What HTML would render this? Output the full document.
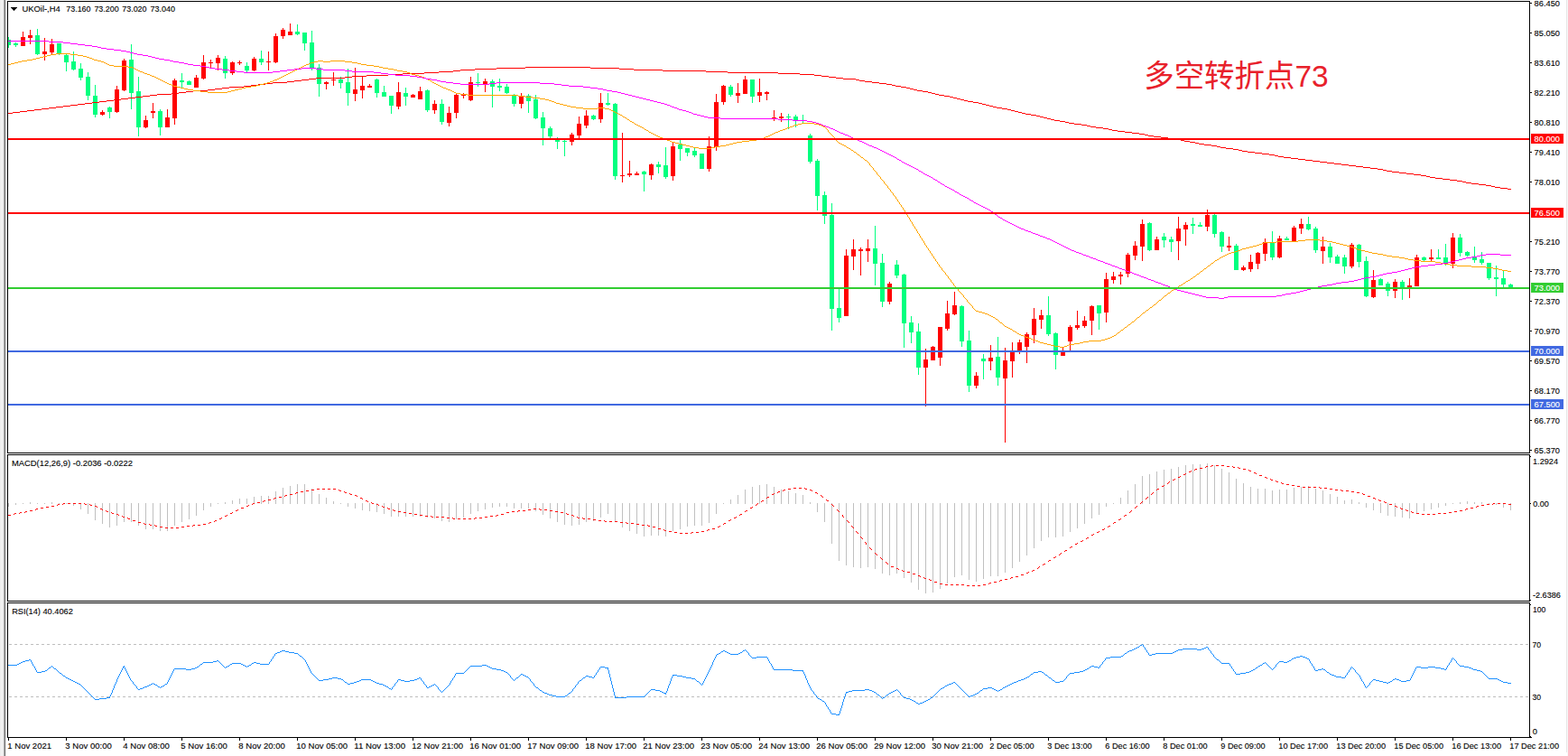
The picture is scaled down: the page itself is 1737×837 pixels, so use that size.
<!DOCTYPE html>
<html><head><meta charset="utf-8"><title>UKOil H4</title>
<style>html,body{margin:0;padding:0;background:#fff;overflow:hidden}body{width:1737px;height:837px;font-family:"Liberation Sans",sans-serif}svg{display:block}text{font-family:"Liberation Sans",sans-serif;font-size:9.7px;fill:#000;stroke:#000;stroke-width:0.12px}</style></head><body>
<svg width="1737" height="837" viewBox="0 0 1737 837">
<rect x="0" y="0" width="1737" height="837" fill="#fff"/>
<g shape-rendering="crispEdges">
<rect x="0" y="0" width="1" height="837" fill="#eeeeee"/>
<rect x="1" y="0" width="2" height="837" fill="#f2f2f2"/>
<rect x="3" y="0" width="1" height="837" fill="#eaeaea"/>
<rect x="4" y="0" width="1" height="837" fill="#b0b0b0"/>
<rect x="5" y="0" width="1" height="837" fill="#707070"/>
<rect x="6" y="0" width="1" height="837" fill="#f4f4f4"/>
<rect x="1735" y="0" width="1" height="833" fill="#e6e6e6"/>
<rect x="1736" y="0" width="1" height="837" fill="#f8f8f8"/>
</g>
<defs><clipPath id="cm"><rect x="9" y="2" width="1685" height="499"/></clipPath><clipPath id="c2"><rect x="9" y="504" width="1685" height="161"/></clipPath><clipPath id="c3"><rect x="9" y="668" width="1685" height="148"/></clipPath></defs>
<g clip-path="url(#cm)" shape-rendering="crispEdges">
<path fill="#00ff7f" d="M9 41h1V53h-1zM17 47h1V52h-1zM41 32h1V61h-1zM65 48h1V61h-1zM73 59h1V79h-1zM81 57h1V78h-1zM89 70h1V89h-1zM97 80h1V111h-1zM105 94h1V130h-1zM121 118h1V131h-1zM145 49h1V121h-1zM153 85h1V151h-1zM177 121h1V150h-1zM201 81h1V97h-1zM209 89h1V94h-1zM249 62h1V87h-1zM273 69h1V80h-1zM289 56h1V72h-1zM329 27h1V39h-1zM337 36h1V56h-1zM345 34h1V78h-1zM353 71h1V107h-1zM377 85h1V98h-1zM385 76h1V117h-1zM417 87h1V108h-1zM425 95h1V107h-1zM433 106h1V126h-1zM449 97h1V117h-1zM473 99h1V124h-1zM489 110h1V138h-1zM529 81h1V96h-1zM545 88h1V119h-1zM553 87h1V101h-1zM561 93h1V104h-1zM569 104h1V118h-1zM585 104h1V125h-1zM593 105h1V132h-1zM601 124h1V161h-1zM609 140h1V153h-1zM617 152h1V165h-1zM625 155h1V173h-1zM657 127h1V133h-1zM673 103h1V117h-1zM681 114h1V199h-1zM713 189h1V212h-1zM729 179h1V192h-1zM737 163h1V198h-1zM753 155h1V178h-1zM761 164h1V173h-1zM769 164h1V174h-1zM777 170h1V187h-1zM809 94h1V107h-1zM833 88h1V114h-1zM873 126h1V143h-1zM881 127h1V141h-1zM889 127h1V137h-1zM897 148h1V181h-1zM905 176h1V233h-1zM913 212h1V248h-1zM921 225h1V366h-1zM929 320h1V357h-1zM969 250h1V316h-1zM977 281h1V340h-1zM993 288h1V308h-1zM1001 303h1V385h-1zM1009 350h1V380h-1zM1017 358h1V415h-1zM1065 338h1V384h-1zM1073 366h1V434h-1zM1089 392h1V420h-1zM1105 373h1V427h-1zM1161 328h1V372h-1zM1169 368h1V409h-1zM1217 338h1V365h-1zM1273 246h1V278h-1zM1289 258h1V274h-1zM1297 262h1V279h-1zM1321 241h1V259h-1zM1329 246h1V251h-1zM1345 237h1V263h-1zM1353 256h1V279h-1zM1369 270h1V299h-1zM1409 256h1V288h-1zM1425 262h1V266h-1zM1449 240h1V255h-1zM1457 251h1V280h-1zM1473 269h1V291h-1zM1481 282h1V292h-1zM1489 282h1V303h-1zM1505 270h1V296h-1zM1513 284h1V329h-1zM1529 308h1V316h-1zM1537 312h1V328h-1zM1553 310h1V332h-1zM1577 284h1V290h-1zM1593 276h1V287h-1zM1601 270h1V294h-1zM1617 259h1V284h-1zM1625 278h1V284h-1zM1633 273h1V291h-1zM1641 279h1V293h-1zM1649 291h1V310h-1zM1657 294h1V328h-1zM1665 300h1V318h-1zM1673 314h1V318h-1zM7 44h5V50h-5zM15 48h5V50h-5zM39 39h5V60h-5zM63 48h5V59h-5zM71 61h5V69h-5zM79 68h5V77h-5zM87 76h5V86h-5zM95 85h5V106h-5zM103 106h5V127h-5zM119 119h5V124h-5zM143 66h5V103h-5zM151 101h5V141h-5zM175 123h5V141h-5zM199 89h5V91h-5zM207 90h5V94h-5zM247 65h5V81h-5zM271 73h5V78h-5zM287 65h5V69h-5zM327 35h5V38h-5zM335 36h5V48h-5zM343 47h5V75h-5zM351 75h5V93h-5zM375 88h5V92h-5zM383 91h5V103h-5zM415 88h5V103h-5zM423 102h5V107h-5zM431 106h5V117h-5zM447 103h5V107h-5zM471 100h5V122h-5zM487 115h5V135h-5zM527 91h5V92h-5zM543 90h5V96h-5zM551 95h5V97h-5zM559 96h5V103h-5zM567 106h5V115h-5zM583 106h5V112h-5zM591 110h5V131h-5zM599 130h5V142h-5zM607 142h5V151h-5zM615 155h5V157h-5zM623 156h5V157h-5zM655 128h5V132h-5zM671 114h5V116h-5zM679 115h5V195h-5zM711 190h5V193h-5zM727 182h5V185h-5zM735 183h5V196h-5zM751 160h5V165h-5zM759 164h5V169h-5zM767 167h5V172h-5zM775 170h5V187h-5zM807 96h5V105h-5zM831 88h5V107h-5zM871 129h5V130h-5zM879 129h5V134h-5zM887 133h5V134h-5zM895 150h5V179h-5zM903 178h5V217h-5zM911 216h5V239h-5zM919 238h5V342h-5zM927 341h5V352h-5zM967 275h5V292h-5zM975 291h5V334h-5zM991 293h5V305h-5zM999 304h5V358h-5zM1007 357h5V368h-5zM1015 367h5V407h-5zM1063 339h5V378h-5zM1071 377h5V427h-5zM1087 397h5V400h-5zM1103 395h5V418h-5zM1159 349h5V370h-5zM1167 369h5V393h-5zM1215 338h5V347h-5zM1271 247h5V277h-5zM1287 262h5V266h-5zM1295 265h5V268h-5zM1319 248h5V250h-5zM1327 249h5V251h-5zM1343 238h5V259h-5zM1351 257h5V273h-5zM1367 272h5V299h-5zM1407 269h5V285h-5zM1423 264h5V266h-5zM1447 248h5V254h-5zM1455 253h5V277h-5zM1471 273h5V285h-5zM1479 284h5V292h-5zM1487 285h5V295h-5zM1503 271h5V290h-5zM1511 289h5V328h-5zM1527 309h5V316h-5zM1535 314h5V322h-5zM1551 312h5V320h-5zM1575 285h5V288h-5zM1591 285h5V287h-5zM1599 285h5V292h-5zM1615 263h5V280h-5zM1623 279h5V283h-5zM1631 285h5V288h-5zM1639 287h5V291h-5zM1647 291h5V308h-5zM1655 307h5V309h-5zM1663 308h5V315h-5zM1671 315h5V318h-5z"/>
<path fill="#ff0000" d="M25 35h1V51h-1zM33 33h1V49h-1zM49 42h1V67h-1zM57 43h1V61h-1zM113 122h1V128h-1zM129 95h1V125h-1zM137 65h1V101h-1zM161 128h1V142h-1zM169 114h1V131h-1zM185 121h1V141h-1zM193 87h1V138h-1zM217 83h1V97h-1zM225 61h1V88h-1zM233 66h1V75h-1zM241 61h1V78h-1zM257 68h1V83h-1zM265 67h1V72h-1zM281 63h1V79h-1zM297 57h1V78h-1zM305 37h1V70h-1zM313 31h1V43h-1zM321 26h1V39h-1zM361 90h1V99h-1zM369 80h1V95h-1zM393 75h1V112h-1zM401 84h1V109h-1zM409 93h1V97h-1zM441 91h1V121h-1zM457 104h1V108h-1zM465 96h1V110h-1zM481 111h1V126h-1zM497 118h1V140h-1zM505 104h1V131h-1zM513 103h1V109h-1zM521 85h1V112h-1zM537 87h1V102h-1zM577 103h1V120h-1zM633 147h1V161h-1zM641 129h1V153h-1zM649 122h1V142h-1zM665 103h1V136h-1zM689 147h1V202h-1zM697 178h1V196h-1zM705 190h1V194h-1zM721 181h1V199h-1zM745 157h1V200h-1zM785 151h1V190h-1zM793 104h1V167h-1zM801 94h1V116h-1zM817 92h1V114h-1zM825 84h1V104h-1zM841 87h1V113h-1zM849 101h1V111h-1zM857 122h1V134h-1zM865 125h1V135h-1zM937 276h1V350h-1zM945 265h1V299h-1zM953 274h1V305h-1zM961 265h1V290h-1zM985 312h1V337h-1zM1025 386h1V450h-1zM1033 383h1V399h-1zM1041 362h1V405h-1zM1049 333h1V366h-1zM1057 323h1V349h-1zM1081 412h1V430h-1zM1097 382h1V410h-1zM1113 385h1V490h-1zM1121 379h1V418h-1zM1129 376h1V392h-1zM1137 368h1V402h-1zM1145 341h1V380h-1zM1153 343h1V364h-1zM1177 385h1V394h-1zM1185 360h1V388h-1zM1193 344h1V365h-1zM1201 350h1V363h-1zM1209 338h1V371h-1zM1225 302h1V357h-1zM1233 301h1V314h-1zM1241 301h1V315h-1zM1249 280h1V307h-1zM1257 267h1V288h-1zM1265 243h1V289h-1zM1281 262h1V277h-1zM1305 240h1V288h-1zM1313 246h1V272h-1zM1337 232h1V256h-1zM1361 262h1V278h-1zM1377 294h1V300h-1zM1385 282h1V301h-1zM1393 279h1V298h-1zM1401 264h1V289h-1zM1417 261h1V286h-1zM1433 250h1V267h-1zM1441 242h1V259h-1zM1465 262h1V292h-1zM1497 269h1V297h-1zM1521 299h1V330h-1zM1545 309h1V330h-1zM1561 308h1V330h-1zM1569 282h1V317h-1zM1585 276h1V289h-1zM1609 258h1V297h-1zM23 41h5V51h-5zM31 39h5V42h-5zM47 57h5V60h-5zM55 49h5V58h-5zM111 124h5V127h-5zM127 99h5V124h-5zM135 67h5V100h-5zM159 133h5V141h-5zM167 123h5V125h-5zM183 130h5V141h-5zM191 89h5V131h-5zM215 86h5V97h-5zM223 69h5V87h-5zM231 69h5V70h-5zM239 64h5V70h-5zM255 69h5V81h-5zM263 69h5V70h-5zM279 65h5V78h-5zM295 68h5V69h-5zM303 40h5V69h-5zM311 33h5V40h-5zM319 35h5V39h-5zM359 91h5V93h-5zM367 88h5V89h-5zM391 99h5V104h-5zM399 95h5V100h-5zM407 95h5V97h-5zM439 102h5V118h-5zM455 105h5V108h-5zM463 101h5V110h-5zM479 115h5V122h-5zM495 125h5V136h-5zM503 105h5V125h-5zM511 105h5V106h-5zM519 91h5V111h-5zM535 90h5V94h-5zM575 106h5V115h-5zM631 149h5V157h-5zM639 137h5V150h-5zM647 128h5V139h-5zM663 114h5V132h-5zM687 194h5V195h-5zM695 192h5V194h-5zM703 192h5V194h-5zM719 182h5V194h-5zM743 162h5V195h-5zM783 162h5V187h-5zM791 113h5V163h-5zM799 95h5V113h-5zM815 103h5V106h-5zM823 88h5V104h-5zM839 102h5V106h-5zM847 102h5V104h-5zM855 130h5V132h-5zM863 129h5V131h-5zM935 283h5V350h-5zM943 276h5V284h-5zM951 276h5V278h-5zM959 275h5V278h-5zM983 314h5V334h-5zM1023 398h5V407h-5zM1031 384h5V399h-5zM1039 362h5V396h-5zM1047 347h5V364h-5zM1055 338h5V348h-5zM1079 416h5V427h-5zM1095 396h5V400h-5zM1111 399h5V419h-5zM1119 390h5V400h-5zM1127 379h5V389h-5zM1135 370h5V384h-5zM1143 353h5V371h-5zM1151 349h5V354h-5zM1175 390h5V394h-5zM1183 362h5V378h-5zM1191 360h5V363h-5zM1199 355h5V361h-5zM1207 339h5V355h-5zM1223 309h5V346h-5zM1231 306h5V310h-5zM1239 304h5V306h-5zM1247 282h5V303h-5zM1255 272h5V283h-5zM1263 248h5V273h-5zM1279 265h5V277h-5zM1303 253h5V267h-5zM1311 249h5V254h-5zM1335 238h5V251h-5zM1359 272h5V274h-5zM1375 296h5V299h-5zM1383 290h5V298h-5zM1391 280h5V292h-5zM1399 268h5V281h-5zM1415 264h5V285h-5zM1431 252h5V267h-5zM1439 248h5V253h-5zM1463 273h5V278h-5zM1495 271h5V295h-5zM1519 310h5V329h-5zM1543 312h5V322h-5zM1559 316h5V318h-5zM1567 285h5V317h-5zM1583 285h5V287h-5zM1607 263h5V292h-5z"/>
<path fill="#ff0000" d="M582 74h72v1h-72zM550 75h32v1h-32zM654 75h32v1h-32zM526 76h24v1h-24zM686 76h16v1h-16zM510 77h16v1h-16zM702 77h32v1h-32zM502 78h8v1h-8zM734 78h48v1h-48zM486 79h16v1h-16zM782 79h24v1h-24zM470 80h16v1h-16zM806 80h56v1h-56zM446 81h24v1h-24zM862 81h24v1h-24zM430 82h16v1h-16zM886 82h16v1h-16zM406 83h24v1h-24zM902 83h8v1h-8zM390 84h16v1h-16zM910 84h8v1h-8zM382 85h8v1h-8zM918 85h8v1h-8zM350 86h32v1h-32zM926 86h8v1h-8zM342 87h8v1h-8zM934 87h14v1h-14zM334 88h8v1h-8zM948 88h4v1h-4zM326 89h8v1h-8zM952 89h6v1h-6zM318 90h8v1h-8zM958 90h8v1h-8zM302 91h16v1h-16zM966 91h8v1h-8zM294 92h8v1h-8zM974 92h8v1h-8zM286 93h8v1h-8zM982 93h6v1h-6zM278 94h8v1h-8zM988 94h4v1h-4zM270 95h8v1h-8zM992 95h6v1h-6zM254 96h16v1h-16zM998 96h6v1h-6zM246 97h8v1h-8zM1004 97h4v1h-4zM238 98h8v1h-8zM1008 98h4v1h-4zM230 99h8v1h-8zM1012 99h4v1h-4zM214 100h16v1h-16zM1016 100h6v1h-6zM206 101h8v1h-8zM1022 101h6v1h-6zM198 102h8v1h-8zM1028 102h4v1h-4zM190 103h8v1h-8zM1032 103h4v1h-4zM174 104h16v1h-16zM1036 104h4v1h-4zM166 105h8v1h-8zM1040 105h6v1h-6zM158 106h8v1h-8zM1046 106h6v1h-6zM150 107h8v1h-8zM1052 107h4v1h-4zM142 108h8v1h-8zM1056 108h4v1h-4zM134 109h8v1h-8zM1060 109h4v1h-4zM126 110h8v1h-8zM1064 110h4v1h-4zM118 111h8v1h-8zM1068 111h4v1h-4zM110 112h8v1h-8zM1072 112h6v1h-6zM102 113h8v1h-8zM1078 113h6v1h-6zM94 114h8v1h-8zM1084 114h4v1h-4zM86 115h8v1h-8zM1088 115h4v1h-4zM78 116h8v1h-8zM1092 116h4v1h-4zM70 117h8v1h-8zM1096 117h4v1h-4zM62 118h8v1h-8zM1100 118h4v1h-4zM54 119h8v1h-8zM1104 119h6v1h-6zM46 120h8v1h-8zM1110 120h6v1h-6zM38 121h8v1h-8zM1116 121h4v1h-4zM30 122h8v1h-8zM1120 122h4v1h-4zM22 123h8v1h-8zM1124 123h4v1h-4zM14 124h8v1h-8zM1128 124h4v1h-4zM9 125h5v1h-5zM1132 125h4v1h-4zM1136 126h6v1h-6zM1142 127h6v1h-6zM1148 128h4v1h-4zM1152 129h4v1h-4zM1156 130h4v1h-4zM1160 131h4v1h-4zM1164 132h4v1h-4zM1168 133h6v1h-6zM1174 134h6v1h-6zM1180 135h4v1h-4zM1184 136h6v1h-6zM1190 137h8v1h-8zM1198 138h6v1h-6zM1204 139h4v1h-4zM1208 140h6v1h-6zM1214 141h8v1h-8zM1222 142h6v1h-6zM1228 143h4v1h-4zM1232 144h6v1h-6zM1238 145h8v1h-8zM1246 146h8v1h-8zM1254 147h8v1h-8zM1262 148h6v1h-6zM1268 149h4v1h-4zM1272 150h6v1h-6zM1278 151h8v1h-8zM1286 152h8v1h-8zM1294 153h8v1h-8zM1302 154h6v1h-6zM1308 155h4v1h-4zM1312 156h6v1h-6zM1318 157h6v1h-6zM1324 158h4v1h-4zM1328 159h6v1h-6zM1334 160h8v1h-8zM1342 161h6v1h-6zM1348 162h4v1h-4zM1352 163h6v1h-6zM1358 164h8v1h-8zM1366 165h6v1h-6zM1372 166h4v1h-4zM1376 167h6v1h-6zM1382 168h8v1h-8zM1390 169h8v1h-8zM1398 170h8v1h-8zM1406 171h6v1h-6zM1412 172h4v1h-4zM1416 173h6v1h-6zM1422 174h8v1h-8zM1430 175h8v1h-8zM1438 176h8v1h-8zM1446 177h8v1h-8zM1454 178h8v1h-8zM1462 179h8v1h-8zM1470 180h8v1h-8zM1478 181h8v1h-8zM1486 182h8v1h-8zM1494 183h8v1h-8zM1502 184h8v1h-8zM1510 185h8v1h-8zM1518 186h8v1h-8zM1526 187h6v1h-6zM1532 188h4v1h-4zM1536 189h6v1h-6zM1542 190h8v1h-8zM1550 191h8v1h-8zM1558 192h8v1h-8zM1566 193h8v1h-8zM1574 194h6v1h-6zM1580 195h4v1h-4zM1584 196h6v1h-6zM1590 197h8v1h-8zM1598 198h8v1h-8zM1606 199h8v1h-8zM1614 200h6v1h-6zM1620 201h4v1h-4zM1624 202h6v1h-6zM1630 203h8v1h-8zM1638 204h8v1h-8zM1646 205h6v1h-6zM1652 206h4v1h-4zM1656 207h6v1h-6zM1662 208h8v1h-8zM1670 209h4v1h-4z"/>
<path fill="#ffa500" d="M62 59h16v1h-16zM56 60h6v1h-6zM78 60h8v1h-8zM52 61h4v1h-4zM86 61h6v1h-6zM48 62h4v1h-4zM92 62h4v1h-4zM44 63h4v1h-4zM96 63h3v1h-3zM40 64h4v1h-4zM99 64h3v1h-3zM36 65h4v1h-4zM102 65h2v1h-2zM30 66h6v1h-6zM104 66h4v1h-4zM24 67h6v1h-6zM108 67h4v1h-4zM352 67h6v1h-6zM366 67h16v1h-16zM20 68h4v1h-4zM112 68h3v1h-3zM348 68h4v1h-4zM358 68h8v1h-8zM382 68h8v1h-8zM16 69h4v1h-4zM115 69h2v1h-2zM344 69h4v1h-4zM390 69h6v1h-6zM12 70h4v1h-4zM117 70h2v1h-2zM342 70h2v1h-2zM396 70h4v1h-4zM9 71h3v1h-3zM119 71h2v1h-2zM339 71h3v1h-3zM400 71h6v1h-6zM121 72h5v1h-5zM337 72h2v1h-2zM406 72h8v1h-8zM126 73h16v1h-16zM335 73h2v1h-2zM414 73h6v1h-6zM142 74h5v1h-5zM333 74h2v1h-2zM420 74h4v1h-4zM147 75h2v1h-2zM331 75h2v1h-2zM424 75h6v1h-6zM149 76h2v1h-2zM329 76h2v1h-2zM430 76h6v1h-6zM151 77h2v1h-2zM327 77h2v1h-2zM436 77h4v1h-4zM153 78h2v1h-2zM325 78h2v1h-2zM440 78h6v1h-6zM155 79h3v1h-3zM323 79h2v1h-2zM446 79h5v1h-5zM158 80h2v1h-2zM321 80h2v1h-2zM451 80h3v1h-3zM160 81h3v1h-3zM319 81h2v1h-2zM454 81h2v1h-2zM163 82h3v1h-3zM317 82h2v1h-2zM456 82h4v1h-4zM166 83h2v1h-2zM315 83h2v1h-2zM460 83h4v1h-4zM168 84h3v1h-3zM313 84h2v1h-2zM464 84h3v1h-3zM171 85h2v1h-2zM311 85h2v1h-2zM467 85h3v1h-3zM173 86h2v1h-2zM309 86h2v1h-2zM470 86h2v1h-2zM175 87h2v1h-2zM307 87h2v1h-2zM472 87h2v1h-2zM177 88h2v1h-2zM304 88h3v1h-3zM474 88h2v1h-2zM179 89h2v1h-2zM302 89h2v1h-2zM476 89h2v1h-2zM181 90h2v1h-2zM299 90h3v1h-3zM478 90h1v1h-1zM183 91h2v1h-2zM296 91h3v1h-3zM479 91h2v1h-2zM185 92h2v1h-2zM292 92h4v1h-4zM481 92h2v1h-2zM187 93h3v1h-3zM288 93h4v1h-4zM483 93h2v1h-2zM190 94h2v1h-2zM284 94h4v1h-4zM485 94h2v1h-2zM192 95h4v1h-4zM278 95h6v1h-6zM487 95h2v1h-2zM196 96h4v1h-4zM272 96h6v1h-6zM489 96h2v1h-2zM200 97h4v1h-4zM268 97h4v1h-4zM491 97h3v1h-3zM204 98h4v1h-4zM264 98h4v1h-4zM494 98h2v1h-2zM208 99h6v1h-6zM260 99h4v1h-4zM496 99h3v1h-3zM214 100h8v1h-8zM256 100h4v1h-4zM499 100h2v1h-2zM222 101h8v1h-8zM252 101h4v1h-4zM501 101h2v1h-2zM230 102h22v1h-22zM503 102h2v1h-2zM505 103h5v1h-5zM510 104h8v1h-8zM518 105h56v1h-56zM574 106h8v1h-8zM582 107h8v1h-8zM590 108h8v1h-8zM598 109h6v1h-6zM604 110h4v1h-4zM608 111h3v1h-3zM611 112h3v1h-3zM614 113h2v1h-2zM616 114h4v1h-4zM620 115h4v1h-4zM624 116h4v1h-4zM628 117h4v1h-4zM632 118h6v1h-6zM638 119h8v1h-8zM662 119h8v1h-8zM646 120h16v1h-16zM670 120h5v1h-5zM675 121h2v1h-2zM677 122h2v1h-2zM679 123h2v1h-2zM681 124h2v1h-2zM683 125h2v1h-2zM685 126h2v1h-2zM687 127h2v1h-2zM689 128h1v1h-1zM690 129h2v1h-2zM692 130h2v1h-2zM694 131h1v1h-1zM695 132h2v1h-2zM697 133h1v1h-1zM698 134h2v1h-2zM700 135h2v1h-2zM702 136h1v1h-1zM888 136h14v1h-14zM703 137h2v1h-2zM884 137h4v1h-4zM902 137h5v1h-5zM705 138h2v1h-2zM880 138h4v1h-4zM907 138h3v1h-3zM707 139h2v1h-2zM878 139h2v1h-2zM910 139h2v1h-2zM709 140h2v1h-2zM875 140h3v1h-3zM912 140h2v1h-2zM711 141h2v1h-2zM872 141h3v1h-3zM914 141h1v1h-1zM713 142h1v1h-1zM870 142h2v1h-2zM915 142h1v1h-1zM714 143h2v1h-2zM867 143h3v1h-3zM916 143h1v1h-1zM716 144h2v1h-2zM864 144h3v1h-3zM917 144h1v1h-1zM718 145h1v1h-1zM862 145h2v1h-2zM917 145h1v1h-1zM719 146h2v1h-2zM859 146h3v1h-3zM918 146h1v1h-1zM721 147h2v1h-2zM857 147h2v1h-2zM919 147h1v1h-1zM723 148h2v1h-2zM855 148h2v1h-2zM920 148h1v1h-1zM725 149h2v1h-2zM853 149h2v1h-2zM921 149h1v1h-1zM727 150h2v1h-2zM851 150h2v1h-2zM922 150h1v1h-1zM729 151h2v1h-2zM848 151h3v1h-3zM923 151h1v1h-1zM731 152h3v1h-3zM846 152h2v1h-2zM924 152h1v1h-1zM734 153h2v1h-2zM843 153h3v1h-3zM925 153h1v1h-1zM736 154h3v1h-3zM838 154h5v1h-5zM925 154h1v1h-1zM739 155h3v1h-3zM830 155h8v1h-8zM926 155h1v1h-1zM742 156h2v1h-2zM822 156h8v1h-8zM927 156h1v1h-1zM744 157h4v1h-4zM816 157h6v1h-6zM928 157h1v1h-1zM748 158h4v1h-4zM812 158h4v1h-4zM929 158h2v1h-2zM752 159h4v1h-4zM808 159h4v1h-4zM931 159h2v1h-2zM756 160h4v1h-4zM804 160h4v1h-4zM933 160h2v1h-2zM760 161h4v1h-4zM798 161h6v1h-6zM935 161h2v1h-2zM764 162h4v1h-4zM792 162h6v1h-6zM937 162h1v1h-1zM768 163h6v1h-6zM788 163h4v1h-4zM938 163h2v1h-2zM774 164h14v1h-14zM940 164h2v1h-2zM942 165h1v1h-1zM943 166h2v1h-2zM945 167h1v1h-1zM946 168h2v1h-2zM948 169h1v1h-1zM949 170h1v1h-1zM950 171h2v1h-2zM952 172h1v1h-1zM953 173h1v1h-1zM954 174h2v1h-2zM956 175h1v1h-1zM957 176h1v1h-1zM958 177h2v1h-2zM960 178h1v1h-1zM961 179h1v1h-1zM962 180h1v1h-1zM963 181h1v1h-1zM963 182h1v1h-1zM964 183h1v1h-1zM965 184h1v1h-1zM966 185h1v1h-1zM967 186h1v1h-1zM967 187h1v1h-1zM968 188h1v1h-1zM969 189h1v1h-1zM970 190h1v1h-1zM971 191h1v1h-1zM971 192h1v1h-1zM972 193h1v1h-1zM973 194h1v1h-1zM974 195h1v1h-1zM975 196h1v1h-1zM975 197h1v1h-1zM976 198h1v1h-1zM977 199h1v1h-1zM978 200h1v1h-1zM979 201h1v1h-1zM979 202h1v1h-1zM980 203h1v1h-1zM981 204h1v1h-1zM982 205h1v1h-1zM983 206h1v1h-1zM983 207h1v1h-1zM984 208h1v1h-1zM985 209h1v1h-1zM986 210h1v1h-1zM986 211h1v1h-1zM987 212h1v1h-1zM988 213h1v1h-1zM989 214h1v1h-1zM989 215h1v1h-1zM990 216h1v1h-1zM991 217h1v1h-1zM992 218h1v1h-1zM992 219h1v1h-1zM993 220h1v1h-1zM994 221h1v1h-1zM994 222h1v1h-1zM995 223h1v1h-1zM996 224h1v1h-1zM996 225h1v1h-1zM997 226h1v1h-1zM998 227h1v1h-1zM998 228h1v1h-1zM999 229h1v1h-1zM1000 230h1v1h-1zM1000 231h1v1h-1zM1001 232h1v1h-1zM1002 233h1v1h-1zM1002 234h1v1h-1zM1003 235h1v1h-1zM1003 236h1v1h-1zM1004 237h1v1h-1zM1005 238h1v1h-1zM1005 239h1v1h-1zM1006 240h1v1h-1zM1007 241h1v1h-1zM1007 242h1v1h-1zM1008 243h1v1h-1zM1008 244h1v1h-1zM1009 245h1v1h-1zM1010 246h1v1h-1zM1010 247h1v1h-1zM1011 248h1v1h-1zM1011 249h1v1h-1zM1012 250h1v1h-1zM1013 251h1v1h-1zM1013 252h1v1h-1zM1014 253h1v1h-1zM1015 254h1v1h-1zM1015 255h1v1h-1zM1016 256h1v1h-1zM1016 257h1v1h-1zM1017 258h1v1h-1zM1018 259h1v1h-1zM1018 260h1v1h-1zM1019 261h1v1h-1zM1019 262h1v1h-1zM1020 263h1v1h-1zM1021 264h1v1h-1zM1021 265h1v1h-1zM1446 265h16v1h-16zM1022 266h1v1h-1zM1438 266h8v1h-8zM1462 266h8v1h-8zM1023 267h1v1h-1zM1414 267h24v1h-24zM1470 267h6v1h-6zM1023 268h1v1h-1zM1400 268h14v1h-14zM1476 268h4v1h-4zM1024 269h1v1h-1zM1398 269h2v1h-2zM1480 269h4v1h-4zM1024 270h1v1h-1zM1395 270h3v1h-3zM1484 270h4v1h-4zM1025 271h1v1h-1zM1392 271h3v1h-3zM1488 271h4v1h-4zM1026 272h1v1h-1zM1388 272h4v1h-4zM1492 272h4v1h-4zM1026 273h1v1h-1zM1384 273h4v1h-4zM1496 273h3v1h-3zM1027 274h1v1h-1zM1380 274h4v1h-4zM1499 274h3v1h-3zM1028 275h1v1h-1zM1376 275h4v1h-4zM1502 275h2v1h-2zM1028 276h1v1h-1zM1374 276h2v1h-2zM1504 276h4v1h-4zM1029 277h1v1h-1zM1371 277h3v1h-3zM1508 277h4v1h-4zM1030 278h1v1h-1zM1368 278h3v1h-3zM1512 278h4v1h-4zM1030 279h1v1h-1zM1364 279h4v1h-4zM1516 279h4v1h-4zM1031 280h1v1h-1zM1361 280h3v1h-3zM1520 280h6v1h-6zM1032 281h1v1h-1zM1359 281h2v1h-2zM1526 281h6v1h-6zM1032 282h1v1h-1zM1357 282h2v1h-2zM1532 282h4v1h-4zM1033 283h1v1h-1zM1355 283h2v1h-2zM1536 283h6v1h-6zM1034 284h1v1h-1zM1353 284h2v1h-2zM1542 284h8v1h-8zM1034 285h1v1h-1zM1351 285h2v1h-2zM1550 285h6v1h-6zM1035 286h1v1h-1zM1350 286h1v1h-1zM1556 286h4v1h-4zM1036 287h1v1h-1zM1348 287h2v1h-2zM1560 287h6v1h-6zM1036 288h1v1h-1zM1346 288h2v1h-2zM1566 288h8v1h-8zM1037 289h1v1h-1zM1345 289h1v1h-1zM1574 289h16v1h-16zM1038 290h1v1h-1zM1344 290h1v1h-1zM1590 290h6v1h-6zM1038 291h1v1h-1zM1342 291h2v1h-2zM1596 291h4v1h-4zM1039 292h1v1h-1zM1341 292h1v1h-1zM1600 292h6v1h-6zM1040 293h1v1h-1zM1340 293h1v1h-1zM1606 293h8v1h-8zM1040 294h1v1h-1zM1338 294h2v1h-2zM1614 294h16v1h-16zM1041 295h1v1h-1zM1337 295h1v1h-1zM1630 295h16v1h-16zM1042 296h1v1h-1zM1336 296h1v1h-1zM1646 296h8v1h-8zM1043 297h1v1h-1zM1334 297h2v1h-2zM1654 297h6v1h-6zM1043 298h1v1h-1zM1333 298h1v1h-1zM1660 298h4v1h-4zM1044 299h1v1h-1zM1332 299h1v1h-1zM1664 299h6v1h-6zM1045 300h1v1h-1zM1330 300h2v1h-2zM1670 300h4v1h-4zM1046 301h1v1h-1zM1329 301h1v1h-1zM1047 302h1v1h-1zM1328 302h1v1h-1zM1047 303h1v1h-1zM1326 303h2v1h-2zM1048 304h1v1h-1zM1325 304h1v1h-1zM1049 305h1v1h-1zM1324 305h1v1h-1zM1050 306h1v1h-1zM1322 306h2v1h-2zM1050 307h1v1h-1zM1321 307h1v1h-1zM1051 308h1v1h-1zM1319 308h2v1h-2zM1052 309h1v1h-1zM1318 309h1v1h-1zM1053 310h1v1h-1zM1316 310h2v1h-2zM1053 311h1v1h-1zM1314 311h2v1h-2zM1054 312h1v1h-1zM1313 312h1v1h-1zM1055 313h1v1h-1zM1311 313h2v1h-2zM1056 314h1v1h-1zM1310 314h1v1h-1zM1056 315h1v1h-1zM1308 315h2v1h-2zM1057 316h1v1h-1zM1306 316h2v1h-2zM1058 317h1v1h-1zM1305 317h1v1h-1zM1059 318h1v1h-1zM1303 318h2v1h-2zM1060 319h1v1h-1zM1302 319h1v1h-1zM1061 320h1v1h-1zM1300 320h2v1h-2zM1061 321h1v1h-1zM1298 321h2v1h-2zM1062 322h1v1h-1zM1297 322h1v1h-1zM1063 323h1v1h-1zM1296 323h1v1h-1zM1064 324h1v1h-1zM1294 324h2v1h-2zM1065 325h1v1h-1zM1293 325h1v1h-1zM1066 326h1v1h-1zM1292 326h1v1h-1zM1067 327h1v1h-1zM1290 327h2v1h-2zM1067 328h1v1h-1zM1289 328h1v1h-1zM1068 329h1v1h-1zM1288 329h1v1h-1zM1069 330h1v1h-1zM1287 330h1v1h-1zM1070 331h1v1h-1zM1286 331h1v1h-1zM1071 332h1v1h-1zM1284 332h2v1h-2zM1071 333h1v1h-1zM1283 333h1v1h-1zM1072 334h1v1h-1zM1282 334h1v1h-1zM1073 335h1v1h-1zM1281 335h1v1h-1zM1074 336h1v1h-1zM1280 336h1v1h-1zM1075 337h1v1h-1zM1278 337h2v1h-2zM1076 338h1v1h-1zM1277 338h1v1h-1zM1077 339h1v1h-1zM1276 339h1v1h-1zM1077 340h1v1h-1zM1274 340h2v1h-2zM1078 341h1v1h-1zM1273 341h1v1h-1zM1079 342h1v1h-1zM1272 342h1v1h-1zM1080 343h1v1h-1zM1270 343h2v1h-2zM1081 344h3v1h-3zM1269 344h1v1h-1zM1084 345h4v1h-4zM1268 345h1v1h-1zM1088 346h3v1h-3zM1266 346h2v1h-2zM1091 347h3v1h-3zM1265 347h1v1h-1zM1094 348h2v1h-2zM1264 348h1v1h-1zM1096 349h2v1h-2zM1263 349h1v1h-1zM1098 350h2v1h-2zM1262 350h1v1h-1zM1100 351h2v1h-2zM1260 351h2v1h-2zM1102 352h1v1h-1zM1259 352h1v1h-1zM1103 353h2v1h-2zM1258 353h1v1h-1zM1105 354h1v1h-1zM1257 354h1v1h-1zM1106 355h1v1h-1zM1256 355h1v1h-1zM1107 356h1v1h-1zM1254 356h2v1h-2zM1108 357h2v1h-2zM1253 357h1v1h-1zM1110 358h1v1h-1zM1252 358h1v1h-1zM1111 359h1v1h-1zM1250 359h2v1h-2zM1112 360h1v1h-1zM1249 360h1v1h-1zM1113 361h2v1h-2zM1248 361h1v1h-1zM1115 362h2v1h-2zM1246 362h2v1h-2zM1117 363h2v1h-2zM1245 363h1v1h-1zM1119 364h2v1h-2zM1244 364h1v1h-1zM1121 365h1v1h-1zM1242 365h2v1h-2zM1122 366h2v1h-2zM1241 366h1v1h-1zM1124 367h2v1h-2zM1240 367h1v1h-1zM1126 368h1v1h-1zM1238 368h2v1h-2zM1127 369h2v1h-2zM1237 369h1v1h-1zM1129 370h2v1h-2zM1236 370h1v1h-1zM1131 371h3v1h-3zM1234 371h2v1h-2zM1134 372h2v1h-2zM1232 372h2v1h-2zM1136 373h3v1h-3zM1230 373h2v1h-2zM1139 374h3v1h-3zM1227 374h3v1h-3zM1142 375h2v1h-2zM1224 375h3v1h-3zM1144 376h3v1h-3zM1220 376h4v1h-4zM1147 377h3v1h-3zM1206 377h14v1h-14zM1150 378h2v1h-2zM1200 378h6v1h-6zM1152 379h4v1h-4zM1196 379h4v1h-4zM1156 380h4v1h-4zM1190 380h6v1h-6zM1160 381h4v1h-4zM1184 381h6v1h-6zM1164 382h4v1h-4zM1182 382h2v1h-2zM1168 383h6v1h-6zM1179 383h3v1h-3zM1174 384h5v1h-5z"/>
<path fill="#ff00ff" d="M9 45h45v1h-45zM54 46h16v1h-16zM70 47h8v1h-8zM78 48h8v1h-8zM86 49h8v1h-8zM94 50h8v1h-8zM102 51h6v1h-6zM108 52h4v1h-4zM112 53h6v1h-6zM118 54h8v1h-8zM126 55h8v1h-8zM134 56h6v1h-6zM140 57h4v1h-4zM144 58h4v1h-4zM148 59h4v1h-4zM152 60h6v1h-6zM158 61h6v1h-6zM164 62h4v1h-4zM168 63h4v1h-4zM172 64h4v1h-4zM176 65h6v1h-6zM182 66h6v1h-6zM188 67h4v1h-4zM192 68h6v1h-6zM198 69h6v1h-6zM204 70h4v1h-4zM208 71h6v1h-6zM214 72h8v1h-8zM222 73h6v1h-6zM228 74h4v1h-4zM232 75h6v1h-6zM334 75h16v1h-16zM238 76h8v1h-8zM326 76h8v1h-8zM350 76h8v1h-8zM246 77h8v1h-8zM318 77h8v1h-8zM358 77h24v1h-24zM254 78h8v1h-8zM310 78h8v1h-8zM382 78h8v1h-8zM262 79h8v1h-8zM302 79h8v1h-8zM390 79h24v1h-24zM270 80h32v1h-32zM414 80h8v1h-8zM422 81h8v1h-8zM430 82h8v1h-8zM438 83h16v1h-16zM454 84h8v1h-8zM462 85h6v1h-6zM468 86h4v1h-4zM472 87h6v1h-6zM478 88h6v1h-6zM484 89h4v1h-4zM488 90h6v1h-6zM494 91h8v1h-8zM550 91h48v1h-48zM502 92h8v1h-8zM542 92h8v1h-8zM598 92h16v1h-16zM510 93h32v1h-32zM614 93h8v1h-8zM622 94h8v1h-8zM630 95h16v1h-16zM646 96h8v1h-8zM654 97h8v1h-8zM662 98h6v1h-6zM668 99h4v1h-4zM672 100h6v1h-6zM678 101h6v1h-6zM684 102h4v1h-4zM688 103h4v1h-4zM692 104h4v1h-4zM696 105h4v1h-4zM700 106h4v1h-4zM704 107h4v1h-4zM708 108h4v1h-4zM712 109h4v1h-4zM716 110h4v1h-4zM720 111h4v1h-4zM724 112h4v1h-4zM728 113h4v1h-4zM732 114h4v1h-4zM736 115h3v1h-3zM739 116h3v1h-3zM742 117h2v1h-2zM744 118h3v1h-3zM747 119h3v1h-3zM750 120h2v1h-2zM752 121h4v1h-4zM756 122h4v1h-4zM760 123h3v1h-3zM763 124h3v1h-3zM766 125h2v1h-2zM768 126h4v1h-4zM772 127h4v1h-4zM776 128h4v1h-4zM780 129h4v1h-4zM784 130h14v1h-14zM798 131h64v1h-64zM862 132h16v1h-16zM878 133h16v1h-16zM894 134h6v1h-6zM900 135h4v1h-4zM904 136h3v1h-3zM907 137h3v1h-3zM910 138h2v1h-2zM912 139h3v1h-3zM915 140h3v1h-3zM918 141h2v1h-2zM920 142h3v1h-3zM923 143h2v1h-2zM925 144h2v1h-2zM927 145h2v1h-2zM929 146h2v1h-2zM931 147h3v1h-3zM934 148h2v1h-2zM936 149h3v1h-3zM939 150h2v1h-2zM941 151h2v1h-2zM943 152h2v1h-2zM945 153h2v1h-2zM947 154h3v1h-3zM950 155h2v1h-2zM952 156h3v1h-3zM955 157h2v1h-2zM957 158h2v1h-2zM959 159h2v1h-2zM961 160h2v1h-2zM963 161h3v1h-3zM966 162h2v1h-2zM968 163h3v1h-3zM971 164h2v1h-2zM973 165h2v1h-2zM975 166h2v1h-2zM977 167h2v1h-2zM979 168h2v1h-2zM981 169h2v1h-2zM983 170h2v1h-2zM985 171h2v1h-2zM987 172h2v1h-2zM989 173h2v1h-2zM991 174h2v1h-2zM993 175h1v1h-1zM994 176h2v1h-2zM996 177h2v1h-2zM998 178h1v1h-1zM999 179h2v1h-2zM1001 180h2v1h-2zM1003 181h2v1h-2zM1005 182h2v1h-2zM1007 183h2v1h-2zM1009 184h2v1h-2zM1011 185h2v1h-2zM1013 186h2v1h-2zM1015 187h2v1h-2zM1017 188h1v1h-1zM1018 189h2v1h-2zM1020 190h2v1h-2zM1022 191h1v1h-1zM1023 192h2v1h-2zM1025 193h2v1h-2zM1027 194h2v1h-2zM1029 195h2v1h-2zM1031 196h2v1h-2zM1033 197h1v1h-1zM1034 198h2v1h-2zM1036 199h2v1h-2zM1038 200h1v1h-1zM1039 201h2v1h-2zM1041 202h1v1h-1zM1042 203h2v1h-2zM1044 204h2v1h-2zM1046 205h1v1h-1zM1047 206h2v1h-2zM1049 207h2v1h-2zM1051 208h2v1h-2zM1053 209h2v1h-2zM1055 210h2v1h-2zM1057 211h1v1h-1zM1058 212h2v1h-2zM1060 213h2v1h-2zM1062 214h1v1h-1zM1063 215h2v1h-2zM1065 216h2v1h-2zM1067 217h2v1h-2zM1069 218h2v1h-2zM1071 219h2v1h-2zM1073 220h1v1h-1zM1074 221h2v1h-2zM1076 222h2v1h-2zM1078 223h1v1h-1zM1079 224h2v1h-2zM1081 225h2v1h-2zM1083 226h2v1h-2zM1085 227h2v1h-2zM1087 228h2v1h-2zM1089 229h2v1h-2zM1091 230h2v1h-2zM1093 231h2v1h-2zM1095 232h2v1h-2zM1097 233h1v1h-1zM1098 234h2v1h-2zM1100 235h1v1h-1zM1101 236h1v1h-1zM1102 237h2v1h-2zM1104 238h1v1h-1zM1105 239h1v1h-1zM1106 240h2v1h-2zM1108 241h2v1h-2zM1110 242h1v1h-1zM1111 243h2v1h-2zM1113 244h2v1h-2zM1115 245h2v1h-2zM1117 246h2v1h-2zM1119 247h2v1h-2zM1121 248h2v1h-2zM1123 249h2v1h-2zM1125 250h2v1h-2zM1127 251h2v1h-2zM1129 252h2v1h-2zM1131 253h3v1h-3zM1134 254h2v1h-2zM1136 255h3v1h-3zM1139 256h3v1h-3zM1142 257h2v1h-2zM1144 258h3v1h-3zM1147 259h3v1h-3zM1150 260h2v1h-2zM1152 261h3v1h-3zM1155 262h3v1h-3zM1158 263h2v1h-2zM1160 264h3v1h-3zM1163 265h2v1h-2zM1165 266h2v1h-2zM1167 267h2v1h-2zM1169 268h2v1h-2zM1171 269h2v1h-2zM1173 270h2v1h-2zM1175 271h2v1h-2zM1177 272h2v1h-2zM1179 273h2v1h-2zM1181 274h2v1h-2zM1183 275h2v1h-2zM1185 276h2v1h-2zM1187 277h3v1h-3zM1190 278h2v1h-2zM1192 279h3v1h-3zM1195 280h3v1h-3zM1198 281h2v1h-2zM1646 281h16v1h-16zM1200 282h3v1h-3zM1640 282h6v1h-6zM1662 282h12v1h-12zM1203 283h3v1h-3zM1636 283h4v1h-4zM1206 284h2v1h-2zM1630 284h6v1h-6zM1208 285h3v1h-3zM1624 285h6v1h-6zM1211 286h3v1h-3zM1620 286h4v1h-4zM1214 287h2v1h-2zM1616 287h4v1h-4zM1216 288h3v1h-3zM1612 288h4v1h-4zM1219 289h3v1h-3zM1608 289h4v1h-4zM1222 290h2v1h-2zM1604 290h4v1h-4zM1224 291h3v1h-3zM1598 291h6v1h-6zM1227 292h3v1h-3zM1590 292h8v1h-8zM1230 293h2v1h-2zM1582 293h8v1h-8zM1232 294h3v1h-3zM1574 294h8v1h-8zM1235 295h3v1h-3zM1568 295h6v1h-6zM1238 296h2v1h-2zM1564 296h4v1h-4zM1240 297h3v1h-3zM1560 297h4v1h-4zM1243 298h3v1h-3zM1556 298h4v1h-4zM1246 299h2v1h-2zM1552 299h4v1h-4zM1248 300h3v1h-3zM1548 300h4v1h-4zM1251 301h3v1h-3zM1542 301h6v1h-6zM1254 302h2v1h-2zM1536 302h6v1h-6zM1256 303h3v1h-3zM1532 303h4v1h-4zM1259 304h3v1h-3zM1528 304h4v1h-4zM1262 305h2v1h-2zM1524 305h4v1h-4zM1264 306h3v1h-3zM1518 306h6v1h-6zM1267 307h3v1h-3zM1512 307h6v1h-6zM1270 308h2v1h-2zM1508 308h4v1h-4zM1272 309h3v1h-3zM1504 309h4v1h-4zM1275 310h3v1h-3zM1500 310h4v1h-4zM1278 311h2v1h-2zM1494 311h6v1h-6zM1280 312h3v1h-3zM1486 312h8v1h-8zM1283 313h3v1h-3zM1480 313h6v1h-6zM1286 314h2v1h-2zM1476 314h4v1h-4zM1288 315h3v1h-3zM1470 315h6v1h-6zM1291 316h3v1h-3zM1464 316h6v1h-6zM1294 317h2v1h-2zM1460 317h4v1h-4zM1296 318h3v1h-3zM1456 318h4v1h-4zM1299 319h3v1h-3zM1452 319h4v1h-4zM1302 320h2v1h-2zM1448 320h4v1h-4zM1304 321h4v1h-4zM1444 321h4v1h-4zM1308 322h4v1h-4zM1440 322h4v1h-4zM1312 323h4v1h-4zM1436 323h4v1h-4zM1316 324h4v1h-4zM1430 324h6v1h-6zM1320 325h4v1h-4zM1424 325h6v1h-6zM1324 326h4v1h-4zM1420 326h4v1h-4zM1328 327h4v1h-4zM1414 327h6v1h-6zM1332 328h4v1h-4zM1360 328h54v1h-54zM1336 329h14v1h-14zM1356 329h4v1h-4zM1350 330h6v1h-6z"/>
<rect x="9" y="153" width="1686" height="2" fill="#ff0000"/>
<rect x="9" y="235" width="1686" height="2" fill="#ff0000"/>
<rect x="9" y="318" width="1686" height="2" fill="#32cd32"/>
<rect x="9" y="388" width="1686" height="2" fill="#4169e1"/>
<rect x="9" y="447" width="1686" height="2" fill="#4169e1"/>
</g>
<g clip-path="url(#c2)" shape-rendering="crispEdges">
<path fill="#c0c0c0" d="M9 557h1V561h-1zM17 557h1V559h-1zM25 557h1v1h-1zM33 556h1V558h-1zM41 557h1v1h-1zM49 557h1v1h-1zM57 556h1V558h-1zM65 557h1v1h-1zM73 557h1v1h-1zM81 557h1V560h-1zM89 557h1V564h-1zM97 557h1V569h-1zM105 557h1V576h-1zM113 557h1V580h-1zM121 557h1V584h-1zM129 557h1V582h-1zM137 557h1V578h-1zM145 557h1V578h-1zM153 557h1V582h-1zM161 557h1V586h-1zM169 557h1V586h-1zM177 557h1V588h-1zM185 557h1V588h-1zM193 557h1V582h-1zM201 557h1V578h-1zM209 557h1V575h-1zM217 557h1V571h-1zM225 557h1V565h-1zM233 557h1V561h-1zM241 557h1v1h-1zM249 556h1V558h-1zM257 554h1V558h-1zM265 552h1V558h-1zM273 552h1V558h-1zM281 550h1V558h-1zM289 549h1V558h-1zM297 549h1V558h-1zM305 544h1V558h-1zM313 540h1V558h-1zM321 538h1V558h-1zM329 536h1V558h-1zM337 536h1V558h-1zM345 541h1V558h-1zM353 547h1V558h-1zM361 551h1V558h-1zM369 555h1V558h-1zM377 557h1v1h-1zM385 557h1V561h-1zM393 557h1V563h-1zM401 557h1V565h-1zM409 557h1V566h-1zM417 557h1V567h-1zM425 557h1V569h-1zM433 557h1V572h-1zM441 557h1V572h-1zM449 557h1V572h-1zM457 557h1V572h-1zM465 557h1V572h-1zM473 557h1V573h-1zM481 557h1V574h-1zM489 557h1V577h-1zM497 557h1V578h-1zM505 557h1V575h-1zM513 557h1V573h-1zM521 557h1V569h-1zM529 557h1V566h-1zM537 557h1V564h-1zM545 557h1V562h-1zM553 557h1V561h-1zM561 557h1V561h-1zM569 557h1V563h-1zM577 557h1V563h-1zM585 557h1V563h-1zM593 557h1V566h-1zM601 557h1V570h-1zM609 557h1V574h-1zM617 557h1V578h-1zM625 557h1V581h-1zM633 557h1V582h-1zM641 557h1V581h-1zM649 557h1V578h-1zM657 557h1V577h-1zM665 557h1V573h-1zM673 557h1V569h-1zM681 557h1V577h-1zM689 557h1V584h-1zM697 557h1V588h-1zM705 557h1V591h-1zM713 557h1V594h-1zM721 557h1V593h-1zM729 557h1V593h-1zM737 557h1V594h-1zM745 557h1V588h-1zM753 557h1V586h-1zM761 557h1V583h-1zM769 557h1V582h-1zM777 557h1V582h-1zM785 557h1V579h-1zM793 557h1V569h-1zM801 557h1v1h-1zM809 553h1V558h-1zM817 548h1V558h-1zM825 542h1V558h-1zM833 539h1V558h-1zM841 537h1V558h-1zM849 536h1V558h-1zM857 539h1V558h-1zM865 542h1V558h-1zM873 544h1V558h-1zM881 546h1V558h-1zM889 548h1V558h-1zM897 556h1V558h-1zM905 557h1V567h-1zM913 557h1V578h-1zM921 557h1V602h-1zM929 557h1V621h-1zM937 557h1V626h-1zM945 557h1V628h-1zM953 557h1V629h-1zM961 557h1V628h-1zM969 557h1V630h-1zM977 557h1V635h-1zM985 557h1V637h-1zM993 557h1V635h-1zM1001 557h1V640h-1zM1009 557h1V645h-1zM1017 557h1V653h-1zM1025 557h1V657h-1zM1033 557h1V656h-1zM1041 557h1V652h-1zM1049 557h1V646h-1zM1057 557h1V639h-1zM1065 557h1V637h-1zM1073 557h1V642h-1zM1081 557h1V644h-1zM1089 557h1V641h-1zM1097 557h1V638h-1zM1105 557h1V638h-1zM1113 557h1V634h-1zM1121 557h1V629h-1zM1129 557h1V622h-1zM1137 557h1V615h-1zM1145 557h1V607h-1zM1153 557h1V599h-1zM1161 557h1V595h-1zM1169 557h1V595h-1zM1177 557h1V594h-1zM1185 557h1V589h-1zM1193 557h1V585h-1zM1201 557h1V580h-1zM1209 557h1V574h-1zM1217 557h1V570h-1zM1225 557h1V561h-1zM1233 557h1v1h-1zM1241 551h1V558h-1zM1249 543h1V558h-1zM1257 536h1V558h-1zM1265 527h1V558h-1zM1273 525h1V558h-1zM1281 522h1V558h-1zM1289 520h1V558h-1zM1297 519h1V558h-1zM1305 517h1V558h-1zM1313 515h1V558h-1zM1321 514h1V558h-1zM1329 514h1V558h-1zM1337 513h1V558h-1zM1345 515h1V558h-1zM1353 519h1V558h-1zM1361 523h1V558h-1zM1369 530h1V558h-1zM1377 535h1V558h-1zM1385 539h1V558h-1zM1393 541h1V558h-1zM1401 541h1V558h-1zM1409 543h1V558h-1zM1417 542h1V558h-1zM1425 542h1V558h-1zM1433 540h1V558h-1zM1441 539h1V558h-1zM1449 538h1V558h-1zM1457 541h1V558h-1zM1465 543h1V558h-1zM1473 547h1V558h-1zM1481 550h1V558h-1zM1489 554h1V558h-1zM1497 553h1V558h-1zM1505 556h1V558h-1zM1513 557h1V562h-1zM1521 557h1V565h-1zM1529 557h1V568h-1zM1537 557h1V571h-1zM1545 557h1V572h-1zM1553 557h1V573h-1zM1561 557h1V574h-1zM1569 557h1V568h-1zM1577 557h1V566h-1zM1585 557h1V564h-1zM1593 557h1V562h-1zM1601 557h1V560h-1zM1609 557h1v1h-1zM1617 556h1V558h-1zM1625 555h1V558h-1zM1633 556h1V558h-1zM1641 556h1V558h-1zM1649 557h1v1h-1zM1657 557h1V559h-1zM1665 557h1V562h-1zM1673 557h1V565h-1z"/>
<path fill="#ff0000" d="M1342 515h2v1h-2zM1347 515h3v1h-3zM1353 515h3v1h-3zM1336 516h2v1h-2zM1341 516h1v1h-1zM1359 516h3v1h-3zM1365 516h1v1h-1zM1335 517h1v1h-1zM1366 517h2v1h-2zM1371 517h1v1h-1zM1329 518h3v1h-3zM1372 518h2v1h-2zM1324 519h2v1h-2zM1377 519h3v1h-3zM1323 520h1v1h-1zM1383 520h1v1h-1zM1319 521h1v1h-1zM1384 521h2v1h-2zM1317 522h2v1h-2zM1389 523h2v1h-2zM1313 524h1v1h-1zM1391 524h1v1h-1zM1311 525h2v1h-2zM1395 526h3v1h-3zM1307 527h1v1h-1zM1305 528h2v1h-2zM1401 528h2v1h-2zM1403 529h1v1h-1zM1301 530h1v1h-1zM1407 530h1v1h-1zM1299 531h2v1h-2zM1408 531h2v1h-2zM1413 532h1v1h-1zM1295 533h1v1h-1zM1414 533h2v1h-2zM1294 534h1v1h-1zM1419 534h1v1h-1zM1293 535h1v1h-1zM1420 535h2v1h-2zM1425 536h3v1h-3zM1289 537h1v1h-1zM1431 537h3v1h-3zM1287 538h2v1h-2zM1437 538h3v1h-3zM1443 539h3v1h-3zM1449 539h3v1h-3zM1455 539h3v1h-3zM1461 539h1v1h-1zM879 540h3v1h-3zM885 540h3v1h-3zM891 540h1v1h-1zM1462 540h2v1h-2zM1467 540h3v1h-3zM351 541h3v1h-3zM357 541h3v1h-3zM363 541h3v1h-3zM369 541h3v1h-3zM873 541h3v1h-3zM892 541h2v1h-2zM1282 541h2v1h-2zM1473 541h3v1h-3zM345 542h3v1h-3zM375 542h1v1h-1zM868 542h2v1h-2zM897 542h2v1h-2zM1281 542h1v1h-1zM1479 542h3v1h-3zM1485 542h1v1h-1zM339 543h3v1h-3zM376 543h2v1h-2zM867 543h1v1h-1zM899 543h1v1h-1zM1486 543h2v1h-2zM1491 543h3v1h-3zM333 544h3v1h-3zM381 544h1v1h-1zM862 544h2v1h-2zM1497 544h3v1h-3zM328 545h2v1h-2zM382 545h2v1h-2zM861 545h1v1h-1zM903 545h2v1h-2zM1277 545h1v1h-1zM1503 545h3v1h-3zM327 546h1v1h-1zM387 546h1v1h-1zM857 546h1v1h-1zM905 546h1v1h-1zM1276 546h1v1h-1zM1509 546h1v1h-1zM321 547h3v1h-3zM388 547h2v1h-2zM855 547h2v1h-2zM1275 547h1v1h-1zM1510 547h2v1h-2zM316 548h2v1h-2zM393 548h2v1h-2zM909 548h1v1h-1zM315 549h1v1h-1zM395 549h1v1h-1zM910 549h1v1h-1zM1515 549h3v1h-3zM309 550h3v1h-3zM850 550h2v1h-2zM911 550h1v1h-1zM1271 550h1v1h-1zM304 551h2v1h-2zM399 551h2v1h-2zM849 551h1v1h-1zM1270 551h1v1h-1zM1521 551h2v1h-2zM303 552h1v1h-1zM401 552h1v1h-1zM1269 552h1v1h-1zM1523 552h1v1h-1zM297 553h3v1h-3zM915 553h1v1h-1zM1527 553h1v1h-1zM292 554h2v1h-2zM405 554h2v1h-2zM844 554h2v1h-2zM916 554h2v1h-2zM1528 554h2v1h-2zM291 555h1v1h-1zM407 555h1v1h-1zM843 555h1v1h-1zM1265 555h1v1h-1zM1533 555h1v1h-1zM285 556h3v1h-3zM411 556h1v1h-1zM1264 556h1v1h-1zM1534 556h2v1h-2zM70 557h2v1h-2zM75 557h3v1h-3zM81 557h3v1h-3zM87 557h3v1h-3zM93 557h1v1h-1zM280 557h2v1h-2zM412 557h2v1h-2zM839 557h1v1h-1zM1263 557h1v1h-1zM1654 557h2v1h-2zM1659 557h3v1h-3zM1665 557h3v1h-3zM64 558h2v1h-2zM69 558h1v1h-1zM94 558h2v1h-2zM99 558h1v1h-1zM279 558h1v1h-1zM417 558h2v1h-2zM838 558h1v1h-1zM921 558h1v1h-1zM1539 558h3v1h-3zM1647 558h3v1h-3zM1653 558h1v1h-1zM1671 558h3v1h-3zM63 559h1v1h-1zM100 559h2v1h-2zM275 559h1v1h-1zM419 559h1v1h-1zM837 559h1v1h-1zM922 559h1v1h-1zM1641 559h3v1h-3zM57 560h3v1h-3zM105 560h2v1h-2zM273 560h2v1h-2zM423 560h1v1h-1zM923 560h1v1h-1zM1259 560h1v1h-1zM1545 560h2v1h-2zM1636 560h2v1h-2zM51 561h3v1h-3zM107 561h1v1h-1zM424 561h2v1h-2zM833 561h1v1h-1zM1258 561h1v1h-1zM1547 561h1v1h-1zM1635 561h1v1h-1zM45 562h3v1h-3zM267 562h3v1h-3zM429 562h1v1h-1zM831 562h2v1h-2zM1257 562h1v1h-1zM1551 562h1v1h-1zM1629 562h3v1h-3zM40 563h2v1h-2zM111 563h2v1h-2zM430 563h2v1h-2zM591 563h3v1h-3zM597 563h1v1h-1zM1552 563h2v1h-2zM1624 563h2v1h-2zM39 564h1v1h-1zM113 564h1v1h-1zM263 564h1v1h-1zM435 564h1v1h-1zM585 564h3v1h-3zM598 564h2v1h-2zM603 564h3v1h-3zM927 564h1v1h-1zM1557 564h1v1h-1zM1623 564h1v1h-1zM33 565h3v1h-3zM117 565h1v1h-1zM261 565h2v1h-2zM436 565h2v1h-2zM574 565h2v1h-2zM579 565h3v1h-3zM609 565h3v1h-3zM826 565h2v1h-2zM928 565h1v1h-1zM1253 565h1v1h-1zM1558 565h2v1h-2zM1617 565h3v1h-3zM28 566h2v1h-2zM118 566h2v1h-2zM441 566h3v1h-3zM567 566h3v1h-3zM573 566h1v1h-1zM615 566h3v1h-3zM825 566h1v1h-1zM929 566h1v1h-1zM1252 566h1v1h-1zM1563 566h1v1h-1zM1611 566h3v1h-3zM22 567h2v1h-2zM27 567h1v1h-1zM123 567h1v1h-1zM257 567h1v1h-1zM447 567h3v1h-3zM561 567h3v1h-3zM621 567h3v1h-3zM1251 567h1v1h-1zM1564 567h2v1h-2zM1605 567h3v1h-3zM16 568h2v1h-2zM21 568h1v1h-1zM124 568h2v1h-2zM255 568h2v1h-2zM453 568h3v1h-3zM627 568h1v1h-1zM1569 568h3v1h-3zM1593 568h3v1h-3zM1599 568h3v1h-3zM15 569h1v1h-1zM129 569h2v1h-2zM459 569h3v1h-3zM555 569h3v1h-3zM628 569h2v1h-2zM820 569h2v1h-2zM1575 569h3v1h-3zM1581 569h3v1h-3zM1587 569h3v1h-3zM9 570h3v1h-3zM131 570h1v1h-1zM251 570h1v1h-1zM465 570h3v1h-3zM550 570h2v1h-2zM633 570h2v1h-2zM819 570h1v1h-1zM933 570h1v1h-1zM1246 570h2v1h-2zM135 571h1v1h-1zM249 571h2v1h-2zM471 571h3v1h-3zM477 571h1v1h-1zM543 571h3v1h-3zM549 571h1v1h-1zM635 571h1v1h-1zM933 571h1v1h-1zM1245 571h1v1h-1zM136 572h2v1h-2zM478 572h2v1h-2zM483 572h3v1h-3zM489 572h3v1h-3zM537 572h3v1h-3zM639 572h1v1h-1zM815 572h1v1h-1zM934 572h1v1h-1zM141 573h1v1h-1zM245 573h1v1h-1zM495 573h3v1h-3zM501 573h1v1h-1zM526 573h2v1h-2zM531 573h3v1h-3zM640 573h2v1h-2zM645 573h1v1h-1zM813 573h2v1h-2zM142 574h2v1h-2zM243 574h2v1h-2zM502 574h2v1h-2zM507 574h3v1h-3zM513 574h3v1h-3zM519 574h3v1h-3zM525 574h1v1h-1zM646 574h2v1h-2zM651 574h3v1h-3zM1241 574h1v1h-1zM657 575h3v1h-3zM809 575h1v1h-1zM1239 575h2v1h-2zM147 576h3v1h-3zM238 576h2v1h-2zM663 576h3v1h-3zM669 576h1v1h-1zM807 576h2v1h-2zM938 576h1v1h-1zM237 577h1v1h-1zM670 577h2v1h-2zM675 577h3v1h-3zM681 577h3v1h-3zM939 577h1v1h-1zM153 578h3v1h-3zM232 578h2v1h-2zM687 578h3v1h-3zM693 578h1v1h-1zM940 578h1v1h-1zM1234 578h2v1h-2zM159 579h1v1h-1zM231 579h1v1h-1zM694 579h2v1h-2zM699 579h3v1h-3zM802 579h2v1h-2zM1233 579h1v1h-1zM160 580h2v1h-2zM165 580h1v1h-1zM225 580h3v1h-3zM705 580h3v1h-3zM801 580h1v1h-1zM166 581h2v1h-2zM171 581h1v1h-1zM214 581h2v1h-2zM219 581h3v1h-3zM711 581h3v1h-3zM717 581h1v1h-1zM172 582h2v1h-2zM207 582h3v1h-3zM213 582h1v1h-1zM718 582h2v1h-2zM797 582h1v1h-1zM943 582h1v1h-1zM1228 582h2v1h-2zM177 583h3v1h-3zM201 583h3v1h-3zM723 583h3v1h-3zM795 583h2v1h-2zM944 583h1v1h-1zM1227 583h1v1h-1zM183 584h3v1h-3zM189 584h3v1h-3zM195 584h3v1h-3zM945 584h1v1h-1zM729 585h3v1h-3zM789 585h3v1h-3zM1223 585h1v1h-1zM735 586h1v1h-1zM784 586h2v1h-2zM1221 586h2v1h-2zM736 587h2v1h-2zM783 587h1v1h-1zM741 588h3v1h-3zM777 588h3v1h-3zM948 588h1v1h-1zM1217 588h1v1h-1zM747 589h3v1h-3zM766 589h2v1h-2zM771 589h3v1h-3zM949 589h1v1h-1zM1215 589h2v1h-2zM753 590h3v1h-3zM759 590h3v1h-3zM765 590h1v1h-1zM950 590h1v1h-1zM1211 591h1v1h-1zM1209 592h2v1h-2zM953 594h1v1h-1zM954 595h1v1h-1zM1204 595h2v1h-2zM955 596h1v1h-1zM1203 596h1v1h-1zM1199 598h1v1h-1zM1197 599h2v1h-2zM958 600h1v1h-1zM959 601h1v1h-1zM1193 601h1v1h-1zM959 602h1v1h-1zM1191 602h2v1h-2zM1186 605h2v1h-2zM963 606h1v1h-1zM1185 606h1v1h-1zM964 607h1v1h-1zM965 608h1v1h-1zM1180 609h2v1h-2zM1179 610h1v1h-1zM969 612h1v1h-1zM1175 612h1v1h-1zM970 613h1v1h-1zM1174 613h1v1h-1zM971 614h1v1h-1zM1173 614h1v1h-1zM1169 616h1v1h-1zM975 617h1v1h-1zM1167 617h2v1h-2zM976 618h1v1h-1zM977 619h1v1h-1zM1162 620h2v1h-2zM1161 621h1v1h-1zM981 622h1v1h-1zM982 623h1v1h-1zM983 624h1v1h-1zM1156 624h2v1h-2zM1155 625h1v1h-1zM987 627h3v1h-3zM1151 627h1v1h-1zM1150 628h1v1h-1zM993 629h2v1h-2zM1149 629h1v1h-1zM995 630h1v1h-1zM999 631h1v1h-1zM1144 631h2v1h-2zM1000 632h2v1h-2zM1143 632h1v1h-1zM1005 633h3v1h-3zM1139 633h1v1h-1zM1137 634h2v1h-2zM1011 635h3v1h-3zM1131 636h3v1h-3zM1017 637h2v1h-2zM1019 638h1v1h-1zM1125 638h3v1h-3zM1023 639h1v1h-1zM1120 639h2v1h-2zM1024 640h2v1h-2zM1119 640h1v1h-1zM1029 641h1v1h-1zM1113 641h3v1h-3zM1030 642h2v1h-2zM1108 642h2v1h-2zM1107 643h1v1h-1zM1035 644h3v1h-3zM1101 644h3v1h-3zM1096 645h2v1h-2zM1041 646h3v1h-3zM1095 646h1v1h-1zM1047 647h3v1h-3zM1053 647h3v1h-3zM1059 647h3v1h-3zM1065 647h3v1h-3zM1089 647h3v1h-3zM1071 648h3v1h-3zM1077 648h3v1h-3zM1083 648h3v1h-3z"/>
</g>
<g clip-path="url(#c3)">
<path fill="#bebebe" shape-rendering="crispEdges" d="M10 713h3v1h-3zM10 771h3v1h-3zM16 713h3v1h-3zM16 771h3v1h-3zM22 713h3v1h-3zM22 771h3v1h-3zM28 713h3v1h-3zM28 771h3v1h-3zM34 713h3v1h-3zM34 771h3v1h-3zM40 713h3v1h-3zM40 771h3v1h-3zM46 713h3v1h-3zM46 771h3v1h-3zM52 713h3v1h-3zM52 771h3v1h-3zM58 713h3v1h-3zM58 771h3v1h-3zM64 713h3v1h-3zM64 771h3v1h-3zM70 713h3v1h-3zM70 771h3v1h-3zM76 713h3v1h-3zM76 771h3v1h-3zM82 713h3v1h-3zM82 771h3v1h-3zM88 713h3v1h-3zM88 771h3v1h-3zM94 713h3v1h-3zM94 771h3v1h-3zM100 713h3v1h-3zM100 771h3v1h-3zM106 713h3v1h-3zM106 771h3v1h-3zM112 713h3v1h-3zM112 771h3v1h-3zM118 713h3v1h-3zM118 771h3v1h-3zM124 713h3v1h-3zM124 771h3v1h-3zM130 713h3v1h-3zM130 771h3v1h-3zM136 713h3v1h-3zM136 771h3v1h-3zM142 713h3v1h-3zM142 771h3v1h-3zM148 713h3v1h-3zM148 771h3v1h-3zM154 713h3v1h-3zM154 771h3v1h-3zM160 713h3v1h-3zM160 771h3v1h-3zM166 713h3v1h-3zM166 771h3v1h-3zM172 713h3v1h-3zM172 771h3v1h-3zM178 713h3v1h-3zM178 771h3v1h-3zM184 713h3v1h-3zM184 771h3v1h-3zM190 713h3v1h-3zM190 771h3v1h-3zM196 713h3v1h-3zM196 771h3v1h-3zM202 713h3v1h-3zM202 771h3v1h-3zM208 713h3v1h-3zM208 771h3v1h-3zM214 713h3v1h-3zM214 771h3v1h-3zM220 713h3v1h-3zM220 771h3v1h-3zM226 713h3v1h-3zM226 771h3v1h-3zM232 713h3v1h-3zM232 771h3v1h-3zM238 713h3v1h-3zM238 771h3v1h-3zM244 713h3v1h-3zM244 771h3v1h-3zM250 713h3v1h-3zM250 771h3v1h-3zM256 713h3v1h-3zM256 771h3v1h-3zM262 713h3v1h-3zM262 771h3v1h-3zM268 713h3v1h-3zM268 771h3v1h-3zM274 713h3v1h-3zM274 771h3v1h-3zM280 713h3v1h-3zM280 771h3v1h-3zM286 713h3v1h-3zM286 771h3v1h-3zM292 713h3v1h-3zM292 771h3v1h-3zM298 713h3v1h-3zM298 771h3v1h-3zM304 713h3v1h-3zM304 771h3v1h-3zM310 713h3v1h-3zM310 771h3v1h-3zM316 713h3v1h-3zM316 771h3v1h-3zM322 713h3v1h-3zM322 771h3v1h-3zM328 713h3v1h-3zM328 771h3v1h-3zM334 713h3v1h-3zM334 771h3v1h-3zM340 713h3v1h-3zM340 771h3v1h-3zM346 713h3v1h-3zM346 771h3v1h-3zM352 713h3v1h-3zM352 771h3v1h-3zM358 713h3v1h-3zM358 771h3v1h-3zM364 713h3v1h-3zM364 771h3v1h-3zM370 713h3v1h-3zM370 771h3v1h-3zM376 713h3v1h-3zM376 771h3v1h-3zM382 713h3v1h-3zM382 771h3v1h-3zM388 713h3v1h-3zM388 771h3v1h-3zM394 713h3v1h-3zM394 771h3v1h-3zM400 713h3v1h-3zM400 771h3v1h-3zM406 713h3v1h-3zM406 771h3v1h-3zM412 713h3v1h-3zM412 771h3v1h-3zM418 713h3v1h-3zM418 771h3v1h-3zM424 713h3v1h-3zM424 771h3v1h-3zM430 713h3v1h-3zM430 771h3v1h-3zM436 713h3v1h-3zM436 771h3v1h-3zM442 713h3v1h-3zM442 771h3v1h-3zM448 713h3v1h-3zM448 771h3v1h-3zM454 713h3v1h-3zM454 771h3v1h-3zM460 713h3v1h-3zM460 771h3v1h-3zM466 713h3v1h-3zM466 771h3v1h-3zM472 713h3v1h-3zM472 771h3v1h-3zM478 713h3v1h-3zM478 771h3v1h-3zM484 713h3v1h-3zM484 771h3v1h-3zM490 713h3v1h-3zM490 771h3v1h-3zM496 713h3v1h-3zM496 771h3v1h-3zM502 713h3v1h-3zM502 771h3v1h-3zM508 713h3v1h-3zM508 771h3v1h-3zM514 713h3v1h-3zM514 771h3v1h-3zM520 713h3v1h-3zM520 771h3v1h-3zM526 713h3v1h-3zM526 771h3v1h-3zM532 713h3v1h-3zM532 771h3v1h-3zM538 713h3v1h-3zM538 771h3v1h-3zM544 713h3v1h-3zM544 771h3v1h-3zM550 713h3v1h-3zM550 771h3v1h-3zM556 713h3v1h-3zM556 771h3v1h-3zM562 713h3v1h-3zM562 771h3v1h-3zM568 713h3v1h-3zM568 771h3v1h-3zM574 713h3v1h-3zM574 771h3v1h-3zM580 713h3v1h-3zM580 771h3v1h-3zM586 713h3v1h-3zM586 771h3v1h-3zM592 713h3v1h-3zM592 771h3v1h-3zM598 713h3v1h-3zM598 771h3v1h-3zM604 713h3v1h-3zM604 771h3v1h-3zM610 713h3v1h-3zM610 771h3v1h-3zM616 713h3v1h-3zM616 771h3v1h-3zM622 713h3v1h-3zM622 771h3v1h-3zM628 713h3v1h-3zM628 771h3v1h-3zM634 713h3v1h-3zM634 771h3v1h-3zM640 713h3v1h-3zM640 771h3v1h-3zM646 713h3v1h-3zM646 771h3v1h-3zM652 713h3v1h-3zM652 771h3v1h-3zM658 713h3v1h-3zM658 771h3v1h-3zM664 713h3v1h-3zM664 771h3v1h-3zM670 713h3v1h-3zM670 771h3v1h-3zM676 713h3v1h-3zM676 771h3v1h-3zM682 713h3v1h-3zM682 771h3v1h-3zM688 713h3v1h-3zM688 771h3v1h-3zM694 713h3v1h-3zM694 771h3v1h-3zM700 713h3v1h-3zM700 771h3v1h-3zM706 713h3v1h-3zM706 771h3v1h-3zM712 713h3v1h-3zM712 771h3v1h-3zM718 713h3v1h-3zM718 771h3v1h-3zM724 713h3v1h-3zM724 771h3v1h-3zM730 713h3v1h-3zM730 771h3v1h-3zM736 713h3v1h-3zM736 771h3v1h-3zM742 713h3v1h-3zM742 771h3v1h-3zM748 713h3v1h-3zM748 771h3v1h-3zM754 713h3v1h-3zM754 771h3v1h-3zM760 713h3v1h-3zM760 771h3v1h-3zM766 713h3v1h-3zM766 771h3v1h-3zM772 713h3v1h-3zM772 771h3v1h-3zM778 713h3v1h-3zM778 771h3v1h-3zM784 713h3v1h-3zM784 771h3v1h-3zM790 713h3v1h-3zM790 771h3v1h-3zM796 713h3v1h-3zM796 771h3v1h-3zM802 713h3v1h-3zM802 771h3v1h-3zM808 713h3v1h-3zM808 771h3v1h-3zM814 713h3v1h-3zM814 771h3v1h-3zM820 713h3v1h-3zM820 771h3v1h-3zM826 713h3v1h-3zM826 771h3v1h-3zM832 713h3v1h-3zM832 771h3v1h-3zM838 713h3v1h-3zM838 771h3v1h-3zM844 713h3v1h-3zM844 771h3v1h-3zM850 713h3v1h-3zM850 771h3v1h-3zM856 713h3v1h-3zM856 771h3v1h-3zM862 713h3v1h-3zM862 771h3v1h-3zM868 713h3v1h-3zM868 771h3v1h-3zM874 713h3v1h-3zM874 771h3v1h-3zM880 713h3v1h-3zM880 771h3v1h-3zM886 713h3v1h-3zM886 771h3v1h-3zM892 713h3v1h-3zM892 771h3v1h-3zM898 713h3v1h-3zM898 771h3v1h-3zM904 713h3v1h-3zM904 771h3v1h-3zM910 713h3v1h-3zM910 771h3v1h-3zM916 713h3v1h-3zM916 771h3v1h-3zM922 713h3v1h-3zM922 771h3v1h-3zM928 713h3v1h-3zM928 771h3v1h-3zM934 713h3v1h-3zM934 771h3v1h-3zM940 713h3v1h-3zM940 771h3v1h-3zM946 713h3v1h-3zM946 771h3v1h-3zM952 713h3v1h-3zM952 771h3v1h-3zM958 713h3v1h-3zM958 771h3v1h-3zM964 713h3v1h-3zM964 771h3v1h-3zM970 713h3v1h-3zM970 771h3v1h-3zM976 713h3v1h-3zM976 771h3v1h-3zM982 713h3v1h-3zM982 771h3v1h-3zM988 713h3v1h-3zM988 771h3v1h-3zM994 713h3v1h-3zM994 771h3v1h-3zM1000 713h3v1h-3zM1000 771h3v1h-3zM1006 713h3v1h-3zM1006 771h3v1h-3zM1012 713h3v1h-3zM1012 771h3v1h-3zM1018 713h3v1h-3zM1018 771h3v1h-3zM1024 713h3v1h-3zM1024 771h3v1h-3zM1030 713h3v1h-3zM1030 771h3v1h-3zM1036 713h3v1h-3zM1036 771h3v1h-3zM1042 713h3v1h-3zM1042 771h3v1h-3zM1048 713h3v1h-3zM1048 771h3v1h-3zM1054 713h3v1h-3zM1054 771h3v1h-3zM1060 713h3v1h-3zM1060 771h3v1h-3zM1066 713h3v1h-3zM1066 771h3v1h-3zM1072 713h3v1h-3zM1072 771h3v1h-3zM1078 713h3v1h-3zM1078 771h3v1h-3zM1084 713h3v1h-3zM1084 771h3v1h-3zM1090 713h3v1h-3zM1090 771h3v1h-3zM1096 713h3v1h-3zM1096 771h3v1h-3zM1102 713h3v1h-3zM1102 771h3v1h-3zM1108 713h3v1h-3zM1108 771h3v1h-3zM1114 713h3v1h-3zM1114 771h3v1h-3zM1120 713h3v1h-3zM1120 771h3v1h-3zM1126 713h3v1h-3zM1126 771h3v1h-3zM1132 713h3v1h-3zM1132 771h3v1h-3zM1138 713h3v1h-3zM1138 771h3v1h-3zM1144 713h3v1h-3zM1144 771h3v1h-3zM1150 713h3v1h-3zM1150 771h3v1h-3zM1156 713h3v1h-3zM1156 771h3v1h-3zM1162 713h3v1h-3zM1162 771h3v1h-3zM1168 713h3v1h-3zM1168 771h3v1h-3zM1174 713h3v1h-3zM1174 771h3v1h-3zM1180 713h3v1h-3zM1180 771h3v1h-3zM1186 713h3v1h-3zM1186 771h3v1h-3zM1192 713h3v1h-3zM1192 771h3v1h-3zM1198 713h3v1h-3zM1198 771h3v1h-3zM1204 713h3v1h-3zM1204 771h3v1h-3zM1210 713h3v1h-3zM1210 771h3v1h-3zM1216 713h3v1h-3zM1216 771h3v1h-3zM1222 713h3v1h-3zM1222 771h3v1h-3zM1228 713h3v1h-3zM1228 771h3v1h-3zM1234 713h3v1h-3zM1234 771h3v1h-3zM1240 713h3v1h-3zM1240 771h3v1h-3zM1246 713h3v1h-3zM1246 771h3v1h-3zM1252 713h3v1h-3zM1252 771h3v1h-3zM1258 713h3v1h-3zM1258 771h3v1h-3zM1264 713h3v1h-3zM1264 771h3v1h-3zM1270 713h3v1h-3zM1270 771h3v1h-3zM1276 713h3v1h-3zM1276 771h3v1h-3zM1282 713h3v1h-3zM1282 771h3v1h-3zM1288 713h3v1h-3zM1288 771h3v1h-3zM1294 713h3v1h-3zM1294 771h3v1h-3zM1300 713h3v1h-3zM1300 771h3v1h-3zM1306 713h3v1h-3zM1306 771h3v1h-3zM1312 713h3v1h-3zM1312 771h3v1h-3zM1318 713h3v1h-3zM1318 771h3v1h-3zM1324 713h3v1h-3zM1324 771h3v1h-3zM1330 713h3v1h-3zM1330 771h3v1h-3zM1336 713h3v1h-3zM1336 771h3v1h-3zM1342 713h3v1h-3zM1342 771h3v1h-3zM1348 713h3v1h-3zM1348 771h3v1h-3zM1354 713h3v1h-3zM1354 771h3v1h-3zM1360 713h3v1h-3zM1360 771h3v1h-3zM1366 713h3v1h-3zM1366 771h3v1h-3zM1372 713h3v1h-3zM1372 771h3v1h-3zM1378 713h3v1h-3zM1378 771h3v1h-3zM1384 713h3v1h-3zM1384 771h3v1h-3zM1390 713h3v1h-3zM1390 771h3v1h-3zM1396 713h3v1h-3zM1396 771h3v1h-3zM1402 713h3v1h-3zM1402 771h3v1h-3zM1408 713h3v1h-3zM1408 771h3v1h-3zM1414 713h3v1h-3zM1414 771h3v1h-3zM1420 713h3v1h-3zM1420 771h3v1h-3zM1426 713h3v1h-3zM1426 771h3v1h-3zM1432 713h3v1h-3zM1432 771h3v1h-3zM1438 713h3v1h-3zM1438 771h3v1h-3zM1444 713h3v1h-3zM1444 771h3v1h-3zM1450 713h3v1h-3zM1450 771h3v1h-3zM1456 713h3v1h-3zM1456 771h3v1h-3zM1462 713h3v1h-3zM1462 771h3v1h-3zM1468 713h3v1h-3zM1468 771h3v1h-3zM1474 713h3v1h-3zM1474 771h3v1h-3zM1480 713h3v1h-3zM1480 771h3v1h-3zM1486 713h3v1h-3zM1486 771h3v1h-3zM1492 713h3v1h-3zM1492 771h3v1h-3zM1498 713h3v1h-3zM1498 771h3v1h-3zM1504 713h3v1h-3zM1504 771h3v1h-3zM1510 713h3v1h-3zM1510 771h3v1h-3zM1516 713h3v1h-3zM1516 771h3v1h-3zM1522 713h3v1h-3zM1522 771h3v1h-3zM1528 713h3v1h-3zM1528 771h3v1h-3zM1534 713h3v1h-3zM1534 771h3v1h-3zM1540 713h3v1h-3zM1540 771h3v1h-3zM1546 713h3v1h-3zM1546 771h3v1h-3zM1552 713h3v1h-3zM1552 771h3v1h-3zM1558 713h3v1h-3zM1558 771h3v1h-3zM1564 713h3v1h-3zM1564 771h3v1h-3zM1570 713h3v1h-3zM1570 771h3v1h-3zM1576 713h3v1h-3zM1576 771h3v1h-3zM1582 713h3v1h-3zM1582 771h3v1h-3zM1588 713h3v1h-3zM1588 771h3v1h-3zM1594 713h3v1h-3zM1594 771h3v1h-3zM1600 713h3v1h-3zM1600 771h3v1h-3zM1606 713h3v1h-3zM1606 771h3v1h-3zM1612 713h3v1h-3zM1612 771h3v1h-3zM1618 713h3v1h-3zM1618 771h3v1h-3zM1624 713h3v1h-3zM1624 771h3v1h-3zM1630 713h3v1h-3zM1630 771h3v1h-3zM1636 713h3v1h-3zM1636 771h3v1h-3zM1642 713h3v1h-3zM1642 771h3v1h-3zM1648 713h3v1h-3zM1648 771h3v1h-3zM1654 713h3v1h-3zM1654 771h3v1h-3zM1660 713h3v1h-3zM1660 771h3v1h-3zM1666 713h3v1h-3zM1666 771h3v1h-3zM1672 713h3v1h-3zM1672 771h3v1h-3zM1678 713h3v1h-3zM1678 771h3v1h-3zM1684 713h3v1h-3zM1684 771h3v1h-3zM1690 713h3v1h-3zM1690 771h3v1h-3z"/>
<path fill="#1e90ff" d="M1265 713h1v1h-1zM1263 714h2v1h-2zM1266 714h1v1h-1zM1262 715h1v1h-1zM1266 715h1v1h-1zM1260 716h2v1h-2zM1267 716h1v1h-1zM1336 716h2v1h-2zM1258 717h2v1h-2zM1268 717h1v1h-1zM1334 717h2v1h-2zM1338 717h1v1h-1zM1256 718h2v1h-2zM1268 718h1v1h-1zM1310 718h16v1h-16zM1331 718h3v1h-3zM1338 718h1v1h-1zM825 719h1v1h-1zM1254 719h2v1h-2zM1269 719h1v1h-1zM1305 719h5v1h-5zM1326 719h5v1h-5zM1339 719h1v1h-1zM312 720h4v1h-4zM801 720h2v1h-2zM823 720h2v1h-2zM826 720h1v1h-1zM1251 720h3v1h-3zM1270 720h1v1h-1zM1303 720h2v1h-2zM1340 720h1v1h-1zM310 721h2v1h-2zM316 721h4v1h-4zM799 721h2v1h-2zM803 721h2v1h-2zM822 721h1v1h-1zM827 721h1v1h-1zM1249 721h2v1h-2zM1270 721h1v1h-1zM1301 721h2v1h-2zM1341 721h1v1h-1zM307 722h3v1h-3zM320 722h6v1h-6zM798 722h1v1h-1zM805 722h2v1h-2zM820 722h2v1h-2zM828 722h1v1h-1zM1248 722h1v1h-1zM1271 722h1v1h-1zM1299 722h2v1h-2zM1341 722h1v1h-1zM305 723h2v1h-2zM326 723h4v1h-4zM796 723h2v1h-2zM807 723h2v1h-2zM818 723h2v1h-2zM829 723h1v1h-1zM1246 723h2v1h-2zM1272 723h1v1h-1zM1280 723h19v1h-19zM1342 723h1v1h-1zM304 724h1v1h-1zM330 724h1v1h-1zM794 724h2v1h-2zM809 724h9v1h-9zM829 724h1v1h-1zM1245 724h1v1h-1zM1272 724h1v1h-1zM1276 724h4v1h-4zM1343 724h1v1h-1zM304 725h1v1h-1zM331 725h1v1h-1zM793 725h1v1h-1zM830 725h1v1h-1zM1244 725h1v1h-1zM1273 725h3v1h-3zM1344 725h1v1h-1zM303 726h1v1h-1zM332 726h2v1h-2zM793 726h1v1h-1zM831 726h1v1h-1zM1242 726h2v1h-2zM1344 726h1v1h-1zM1440 726h3v1h-3zM302 727h1v1h-1zM334 727h1v1h-1zM792 727h1v1h-1zM832 727h1v1h-1zM838 727h12v1h-12zM1230 727h12v1h-12zM1345 727h1v1h-1zM1436 727h4v1h-4zM1443 727h3v1h-3zM302 728h1v1h-1zM335 728h1v1h-1zM792 728h1v1h-1zM833 728h5v1h-5zM850 728h1v1h-1zM1225 728h5v1h-5zM1346 728h1v1h-1zM1433 728h3v1h-3zM1446 728h2v1h-2zM1609 728h1v1h-1zM301 729h1v1h-1zM336 729h1v1h-1zM791 729h1v1h-1zM850 729h1v1h-1zM1224 729h1v1h-1zM1347 729h1v1h-1zM1431 729h2v1h-2zM1448 729h2v1h-2zM1608 729h1v1h-1zM1610 729h1v1h-1zM32 730h2v1h-2zM300 730h1v1h-1zM337 730h1v1h-1zM791 730h1v1h-1zM851 730h1v1h-1zM1224 730h1v1h-1zM1348 730h2v1h-2zM1430 730h1v1h-1zM1450 730h1v1h-1zM1608 730h1v1h-1zM1611 730h1v1h-1zM28 731h4v1h-4zM34 731h1v1h-1zM240 731h2v1h-2zM300 731h1v1h-1zM338 731h1v1h-1zM790 731h1v1h-1zM851 731h1v1h-1zM1223 731h1v1h-1zM1350 731h1v1h-1zM1428 731h2v1h-2zM1450 731h1v1h-1zM1607 731h1v1h-1zM1612 731h1v1h-1zM25 732h3v1h-3zM34 732h1v1h-1zM236 732h4v1h-4zM242 732h1v1h-1zM299 732h1v1h-1zM338 732h1v1h-1zM790 732h1v1h-1zM852 732h1v1h-1zM1222 732h1v1h-1zM1351 732h1v1h-1zM1417 732h5v1h-5zM1426 732h2v1h-2zM1451 732h1v1h-1zM1607 732h1v1h-1zM1613 732h1v1h-1zM23 733h2v1h-2zM35 733h1v1h-1zM225 733h11v1h-11zM243 733h1v1h-1zM281 733h3v1h-3zM298 733h1v1h-1zM339 733h1v1h-1zM789 733h1v1h-1zM852 733h1v1h-1zM1221 733h1v1h-1zM1352 733h1v1h-1zM1401 733h1v1h-1zM1416 733h1v1h-1zM1422 733h4v1h-4zM1451 733h1v1h-1zM1606 733h1v1h-1zM1613 733h1v1h-1zM21 734h2v1h-2zM35 734h1v1h-1zM224 734h1v1h-1zM244 734h1v1h-1zM257 734h10v1h-10zM279 734h2v1h-2zM284 734h4v1h-4zM298 734h1v1h-1zM339 734h1v1h-1zM789 734h1v1h-1zM853 734h1v1h-1zM1221 734h1v1h-1zM1353 734h9v1h-9zM1399 734h2v1h-2zM1402 734h1v1h-1zM1415 734h1v1h-1zM1452 734h1v1h-1zM1605 734h1v1h-1zM1614 734h1v1h-1zM19 735h2v1h-2zM36 735h1v1h-1zM222 735h2v1h-2zM245 735h1v1h-1zM255 735h2v1h-2zM267 735h2v1h-2zM278 735h1v1h-1zM288 735h10v1h-10zM340 735h1v1h-1zM789 735h1v1h-1zM854 735h1v1h-1zM1220 735h1v1h-1zM1362 735h1v1h-1zM1398 735h1v1h-1zM1403 735h1v1h-1zM1414 735h1v1h-1zM1453 735h1v1h-1zM1605 735h1v1h-1zM1615 735h1v1h-1zM9 736h10v1h-10zM36 736h1v1h-1zM221 736h1v1h-1zM246 736h1v1h-1zM254 736h1v1h-1zM269 736h2v1h-2zM276 736h2v1h-2zM340 736h1v1h-1zM534 736h5v1h-5zM788 736h1v1h-1zM854 736h1v1h-1zM1219 736h1v1h-1zM1362 736h1v1h-1zM1396 736h2v1h-2zM1404 736h1v1h-1zM1413 736h1v1h-1zM1453 736h1v1h-1zM1604 736h1v1h-1zM1616 736h1v1h-1zM37 737h1v1h-1zM57 737h1v1h-1zM137 737h1v1h-1zM220 737h1v1h-1zM247 737h1v1h-1zM252 737h2v1h-2zM271 737h2v1h-2zM274 737h2v1h-2zM341 737h1v1h-1zM521 737h13v1h-13zM539 737h2v1h-2zM788 737h1v1h-1zM855 737h1v1h-1zM1209 737h3v1h-3zM1218 737h1v1h-1zM1363 737h1v1h-1zM1394 737h2v1h-2zM1405 737h1v1h-1zM1413 737h1v1h-1zM1454 737h1v1h-1zM1603 737h1v1h-1zM1617 737h5v1h-5zM38 738h1v1h-1zM56 738h1v1h-1zM58 738h1v1h-1zM136 738h2v1h-2zM218 738h2v1h-2zM248 738h1v1h-1zM250 738h2v1h-2zM273 738h1v1h-1zM341 738h1v1h-1zM520 738h1v1h-1zM541 738h2v1h-2zM665 738h5v1h-5zM787 738h1v1h-1zM855 738h1v1h-1zM1207 738h2v1h-2zM1212 738h4v1h-4zM1218 738h1v1h-1zM1364 738h1v1h-1zM1393 738h1v1h-1zM1406 738h1v1h-1zM1412 738h1v1h-1zM1455 738h1v1h-1zM1497 738h1v1h-1zM1569 738h5v1h-5zM1582 738h8v1h-8zM1603 738h1v1h-1zM1622 738h5v1h-5zM38 739h1v1h-1zM54 739h2v1h-2zM59 739h1v1h-1zM136 739h1v1h-1zM138 739h1v1h-1zM216 739h2v1h-2zM249 739h1v1h-1zM342 739h1v1h-1zM519 739h1v1h-1zM543 739h2v1h-2zM664 739h1v1h-1zM670 739h4v1h-4zM787 739h1v1h-1zM856 739h1v1h-1zM1206 739h1v1h-1zM1216 739h2v1h-2zM1364 739h1v1h-1zM1391 739h2v1h-2zM1407 739h1v1h-1zM1411 739h1v1h-1zM1455 739h1v1h-1zM1496 739h1v1h-1zM1498 739h1v1h-1zM1568 739h1v1h-1zM1574 739h8v1h-8zM1590 739h6v1h-6zM1602 739h1v1h-1zM1627 739h3v1h-3zM39 740h1v1h-1zM53 740h1v1h-1zM60 740h2v1h-2zM135 740h1v1h-1zM138 740h1v1h-1zM193 740h13v1h-13zM212 740h4v1h-4zM342 740h1v1h-1zM518 740h1v1h-1zM545 740h5v1h-5zM664 740h1v1h-1zM673 740h1v1h-1zM786 740h1v1h-1zM856 740h1v1h-1zM1204 740h2v1h-2zM1365 740h1v1h-1zM1390 740h1v1h-1zM1408 740h1v1h-1zM1410 740h1v1h-1zM1456 740h1v1h-1zM1464 740h2v1h-2zM1496 740h1v1h-1zM1499 740h1v1h-1zM1568 740h1v1h-1zM1596 740h4v1h-4zM1602 740h1v1h-1zM1630 740h2v1h-2zM39 741h1v1h-1zM52 741h1v1h-1zM62 741h1v1h-1zM135 741h1v1h-1zM139 741h1v1h-1zM192 741h1v1h-1zM206 741h6v1h-6zM343 741h1v1h-1zM517 741h1v1h-1zM550 741h5v1h-5zM663 741h1v1h-1zM673 741h1v1h-1zM786 741h1v1h-1zM857 741h21v1h-21zM1202 741h2v1h-2zM1366 741h1v1h-1zM1388 741h2v1h-2zM1409 741h1v1h-1zM1456 741h1v1h-1zM1460 741h4v1h-4zM1466 741h2v1h-2zM1495 741h1v1h-1zM1500 741h1v1h-1zM1567 741h1v1h-1zM1600 741h2v1h-2zM1632 741h4v1h-4zM40 742h1v1h-1zM50 742h2v1h-2zM63 742h1v1h-1zM134 742h1v1h-1zM139 742h1v1h-1zM192 742h1v1h-1zM343 742h1v1h-1zM516 742h1v1h-1zM555 742h3v1h-3zM662 742h1v1h-1zM674 742h1v1h-1zM785 742h1v1h-1zM878 742h12v1h-12zM1200 742h2v1h-2zM1366 742h1v1h-1zM1386 742h2v1h-2zM1457 742h3v1h-3zM1468 742h1v1h-1zM1494 742h1v1h-1zM1501 742h1v1h-1zM1567 742h1v1h-1zM1636 742h4v1h-4zM40 743h1v1h-1zM46 743h4v1h-4zM64 743h1v1h-1zM134 743h1v1h-1zM140 743h1v1h-1zM191 743h1v1h-1zM344 743h1v1h-1zM515 743h1v1h-1zM558 743h2v1h-2zM662 743h1v1h-1zM674 743h1v1h-1zM785 743h1v1h-1zM889 743h1v1h-1zM1150 743h4v1h-4zM1196 743h4v1h-4zM1367 743h1v1h-1zM1384 743h2v1h-2zM1469 743h1v1h-1zM1494 743h1v1h-1zM1501 743h1v1h-1zM1566 743h1v1h-1zM1640 743h2v1h-2zM41 744h5v1h-5zM65 744h1v1h-1zM133 744h1v1h-1zM140 744h1v1h-1zM191 744h1v1h-1zM344 744h1v1h-1zM514 744h1v1h-1zM560 744h2v1h-2zM661 744h1v1h-1zM674 744h1v1h-1zM784 744h1v1h-1zM890 744h1v1h-1zM1145 744h5v1h-5zM1154 744h2v1h-2zM1190 744h6v1h-6zM1368 744h1v1h-1zM1380 744h4v1h-4zM1470 744h2v1h-2zM1493 744h1v1h-1zM1502 744h1v1h-1zM1566 744h1v1h-1zM1642 744h1v1h-1zM66 745h2v1h-2zM133 745h1v1h-1zM141 745h1v1h-1zM190 745h1v1h-1zM345 745h1v1h-1zM505 745h9v1h-9zM562 745h1v1h-1zM660 745h1v1h-1zM674 745h1v1h-1zM784 745h1v1h-1zM890 745h1v1h-1zM1144 745h1v1h-1zM1156 745h1v1h-1zM1185 745h5v1h-5zM1368 745h1v1h-1zM1374 745h6v1h-6zM1472 745h1v1h-1zM1492 745h1v1h-1zM1503 745h1v1h-1zM1565 745h1v1h-1zM1643 745h1v1h-1zM68 746h1v1h-1zM132 746h1v1h-1zM141 746h1v1h-1zM190 746h1v1h-1zM346 746h1v1h-1zM504 746h1v1h-1zM563 746h1v1h-1zM577 746h2v1h-2zM660 746h1v1h-1zM675 746h1v1h-1zM783 746h1v1h-1zM891 746h1v1h-1zM1142 746h2v1h-2zM1157 746h1v1h-1zM1184 746h1v1h-1zM1369 746h5v1h-5zM1473 746h2v1h-2zM1492 746h1v1h-1zM1504 746h1v1h-1zM1565 746h1v1h-1zM1644 746h1v1h-1zM69 747h1v1h-1zM132 747h1v1h-1zM142 747h1v1h-1zM189 747h1v1h-1zM347 747h1v1h-1zM504 747h1v1h-1zM564 747h1v1h-1zM576 747h1v1h-1zM579 747h2v1h-2zM659 747h1v1h-1zM675 747h1v1h-1zM745 747h5v1h-5zM783 747h1v1h-1zM891 747h1v1h-1zM1141 747h1v1h-1zM1158 747h2v1h-2zM1183 747h1v1h-1zM1475 747h3v1h-3zM1491 747h1v1h-1zM1505 747h1v1h-1zM1564 747h1v1h-1zM1645 747h1v1h-1zM70 748h2v1h-2zM131 748h1v1h-1zM142 748h1v1h-1zM189 748h1v1h-1zM348 748h1v1h-1zM503 748h1v1h-1zM565 748h1v1h-1zM575 748h1v1h-1zM581 748h2v1h-2zM649 748h3v1h-3zM658 748h1v1h-1zM675 748h1v1h-1zM745 748h1v1h-1zM750 748h6v1h-6zM782 748h1v1h-1zM892 748h1v1h-1zM1140 748h1v1h-1zM1160 748h1v1h-1zM1182 748h1v1h-1zM1478 748h2v1h-2zM1490 748h1v1h-1zM1506 748h1v1h-1zM1564 748h1v1h-1zM1646 748h1v1h-1zM72 749h1v1h-1zM131 749h1v1h-1zM143 749h1v1h-1zM188 749h1v1h-1zM349 749h1v1h-1zM503 749h1v1h-1zM565 749h1v1h-1zM574 749h1v1h-1zM583 749h2v1h-2zM648 749h1v1h-1zM652 749h4v1h-4zM658 749h1v1h-1zM675 749h1v1h-1zM744 749h1v1h-1zM756 749h4v1h-4zM782 749h1v1h-1zM892 749h1v1h-1zM1138 749h2v1h-2zM1161 749h1v1h-1zM1181 749h1v1h-1zM1480 749h6v1h-6zM1490 749h1v1h-1zM1506 749h1v1h-1zM1563 749h1v1h-1zM1647 749h1v1h-1zM73 750h2v1h-2zM130 750h1v1h-1zM143 750h1v1h-1zM188 750h1v1h-1zM350 750h1v1h-1zM368 750h6v1h-6zM464 750h2v1h-2zM502 750h1v1h-1zM566 750h1v1h-1zM572 750h2v1h-2zM585 750h1v1h-1zM646 750h2v1h-2zM656 750h2v1h-2zM676 750h1v1h-1zM744 750h1v1h-1zM760 750h6v1h-6zM781 750h1v1h-1zM892 750h1v1h-1zM1136 750h2v1h-2zM1162 750h2v1h-2zM1181 750h1v1h-1zM1486 750h4v1h-4zM1507 750h1v1h-1zM1563 750h1v1h-1zM1648 750h1v1h-1zM75 751h2v1h-2zM130 751h1v1h-1zM144 751h1v1h-1zM187 751h1v1h-1zM351 751h1v1h-1zM364 751h4v1h-4zM374 751h4v1h-4zM462 751h2v1h-2zM466 751h1v1h-1zM501 751h1v1h-1zM567 751h1v1h-1zM571 751h1v1h-1zM586 751h1v1h-1zM645 751h1v1h-1zM676 751h1v1h-1zM743 751h1v1h-1zM766 751h4v1h-4zM781 751h1v1h-1zM893 751h1v1h-1zM1134 751h2v1h-2zM1164 751h1v1h-1zM1180 751h1v1h-1zM1507 751h1v1h-1zM1545 751h2v1h-2zM1562 751h1v1h-1zM1649 751h10v1h-10zM77 752h2v1h-2zM129 752h1v1h-1zM144 752h1v1h-1zM187 752h1v1h-1zM352 752h1v1h-1zM358 752h6v1h-6zM378 752h2v1h-2zM400 752h11v1h-11zM441 752h3v1h-3zM459 752h3v1h-3zM466 752h1v1h-1zM501 752h1v1h-1zM568 752h1v1h-1zM570 752h1v1h-1zM587 752h1v1h-1zM644 752h1v1h-1zM676 752h1v1h-1zM743 752h1v1h-1zM770 752h1v1h-1zM780 752h1v1h-1zM893 752h1v1h-1zM1131 752h3v1h-3zM1165 752h1v1h-1zM1179 752h1v1h-1zM1508 752h1v1h-1zM1521 752h3v1h-3zM1543 752h2v1h-2zM1547 752h3v1h-3zM1562 752h1v1h-1zM1659 752h2v1h-2zM79 753h2v1h-2zM129 753h1v1h-1zM145 753h1v1h-1zM186 753h1v1h-1zM353 753h5v1h-5zM380 753h1v1h-1zM398 753h2v1h-2zM411 753h2v1h-2zM440 753h1v1h-1zM444 753h4v1h-4zM454 753h5v1h-5zM467 753h1v1h-1zM500 753h1v1h-1zM569 753h1v1h-1zM587 753h1v1h-1zM642 753h2v1h-2zM676 753h1v1h-1zM743 753h1v1h-1zM771 753h1v1h-1zM780 753h1v1h-1zM894 753h1v1h-1zM1128 753h3v1h-3zM1166 753h2v1h-2zM1178 753h1v1h-1zM1508 753h1v1h-1zM1520 753h1v1h-1zM1524 753h4v1h-4zM1542 753h1v1h-1zM1550 753h2v1h-2zM1558 753h4v1h-4zM1661 753h2v1h-2zM81 754h2v1h-2zM129 754h1v1h-1zM146 754h1v1h-1zM186 754h1v1h-1zM381 754h1v1h-1zM395 754h3v1h-3zM413 754h2v1h-2zM440 754h1v1h-1zM448 754h6v1h-6zM468 754h1v1h-1zM499 754h1v1h-1zM588 754h1v1h-1zM641 754h1v1h-1zM677 754h1v1h-1zM742 754h1v1h-1zM772 754h2v1h-2zM779 754h1v1h-1zM894 754h1v1h-1zM1126 754h2v1h-2zM1168 754h1v1h-1zM1174 754h4v1h-4zM1509 754h1v1h-1zM1519 754h1v1h-1zM1528 754h4v1h-4zM1540 754h2v1h-2zM1552 754h6v1h-6zM1663 754h2v1h-2zM83 755h2v1h-2zM128 755h1v1h-1zM147 755h1v1h-1zM185 755h1v1h-1zM382 755h2v1h-2zM392 755h3v1h-3zM415 755h2v1h-2zM439 755h1v1h-1zM469 755h1v1h-1zM499 755h1v1h-1zM589 755h1v1h-1zM640 755h1v1h-1zM677 755h1v1h-1zM742 755h1v1h-1zM774 755h1v1h-1zM779 755h1v1h-1zM894 755h1v1h-1zM1056 755h2v1h-2zM1123 755h3v1h-3zM1169 755h5v1h-5zM1510 755h1v1h-1zM1518 755h1v1h-1zM1532 755h4v1h-4zM1538 755h2v1h-2zM1665 755h5v1h-5zM85 756h2v1h-2zM128 756h1v1h-1zM147 756h1v1h-1zM169 756h1v1h-1zM185 756h1v1h-1zM384 756h1v1h-1zM388 756h4v1h-4zM417 756h3v1h-3zM438 756h1v1h-1zM469 756h1v1h-1zM498 756h1v1h-1zM590 756h1v1h-1zM640 756h1v1h-1zM677 756h1v1h-1zM742 756h1v1h-1zM775 756h1v1h-1zM778 756h1v1h-1zM895 756h1v1h-1zM1054 756h2v1h-2zM1058 756h1v1h-1zM1121 756h2v1h-2zM1510 756h1v1h-1zM1517 756h1v1h-1zM1536 756h2v1h-2zM1670 756h4v1h-4zM87 757h2v1h-2zM127 757h1v1h-1zM148 757h1v1h-1zM167 757h2v1h-2zM170 757h2v1h-2zM183 757h2v1h-2zM385 757h3v1h-3zM420 757h4v1h-4zM437 757h1v1h-1zM470 757h1v1h-1zM481 757h1v1h-1zM498 757h1v1h-1zM591 757h1v1h-1zM639 757h1v1h-1zM677 757h1v1h-1zM741 757h1v1h-1zM776 757h1v1h-1zM778 757h1v1h-1zM895 757h1v1h-1zM1051 757h3v1h-3zM1059 757h1v1h-1zM1119 757h2v1h-2zM1511 757h1v1h-1zM1517 757h1v1h-1zM89 758h1v1h-1zM127 758h1v1h-1zM149 758h1v1h-1zM165 758h2v1h-2zM172 758h2v1h-2zM182 758h1v1h-1zM424 758h2v1h-2zM437 758h1v1h-1zM471 758h1v1h-1zM479 758h2v1h-2zM482 758h1v1h-1zM497 758h1v1h-1zM591 758h1v1h-1zM638 758h1v1h-1zM678 758h1v1h-1zM741 758h1v1h-1zM777 758h1v1h-1zM896 758h1v1h-1zM1049 758h2v1h-2zM1060 758h1v1h-1zM1117 758h2v1h-2zM1511 758h1v1h-1zM1516 758h1v1h-1zM90 759h1v1h-1zM126 759h1v1h-1zM150 759h1v1h-1zM163 759h2v1h-2zM174 759h1v1h-1zM180 759h2v1h-2zM426 759h2v1h-2zM436 759h1v1h-1zM472 759h1v1h-1zM477 759h2v1h-2zM483 759h1v1h-1zM496 759h1v1h-1zM592 759h1v1h-1zM637 759h1v1h-1zM678 759h1v1h-1zM740 759h1v1h-1zM896 759h1v1h-1zM1047 759h2v1h-2zM1061 759h1v1h-1zM1115 759h2v1h-2zM1512 759h1v1h-1zM1515 759h1v1h-1zM91 760h1v1h-1zM126 760h1v1h-1zM151 760h1v1h-1zM160 760h3v1h-3zM175 760h2v1h-2zM178 760h2v1h-2zM428 760h2v1h-2zM435 760h1v1h-1zM472 760h1v1h-1zM475 760h2v1h-2zM484 760h1v1h-1zM495 760h1v1h-1zM593 760h1v1h-1zM637 760h1v1h-1zM678 760h1v1h-1zM740 760h1v1h-1zM897 760h1v1h-1zM1046 760h1v1h-1zM1062 760h1v1h-1zM1113 760h2v1h-2zM1512 760h1v1h-1zM1514 760h1v1h-1zM92 761h1v1h-1zM126 761h1v1h-1zM151 761h1v1h-1zM158 761h2v1h-2zM177 761h1v1h-1zM430 761h1v1h-1zM434 761h1v1h-1zM473 761h2v1h-2zM485 761h1v1h-1zM494 761h1v1h-1zM594 761h2v1h-2zM636 761h1v1h-1zM678 761h1v1h-1zM740 761h1v1h-1zM897 761h1v1h-1zM1044 761h2v1h-2zM1063 761h1v1h-1zM1094 761h5v1h-5zM1111 761h2v1h-2zM1513 761h1v1h-1zM93 762h1v1h-1zM125 762h1v1h-1zM152 762h1v1h-1zM155 762h3v1h-3zM431 762h2v1h-2zM434 762h1v1h-1zM485 762h1v1h-1zM493 762h1v1h-1zM596 762h1v1h-1zM635 762h1v1h-1zM679 762h1v1h-1zM739 762h1v1h-1zM898 762h1v1h-1zM1042 762h2v1h-2zM1064 762h1v1h-1zM1089 762h5v1h-5zM1099 762h2v1h-2zM1110 762h1v1h-1zM94 763h1v1h-1zM125 763h1v1h-1zM153 763h2v1h-2zM433 763h1v1h-1zM486 763h1v1h-1zM492 763h1v1h-1zM597 763h1v1h-1zM634 763h1v1h-1zM679 763h1v1h-1zM721 763h5v1h-5zM739 763h1v1h-1zM898 763h1v1h-1zM958 763h5v1h-5zM993 763h1v1h-1zM1041 763h1v1h-1zM1065 763h1v1h-1zM1088 763h1v1h-1zM1101 763h2v1h-2zM1108 763h2v1h-2zM95 764h1v1h-1zM124 764h1v1h-1zM487 764h1v1h-1zM491 764h1v1h-1zM598 764h2v1h-2zM634 764h1v1h-1zM679 764h1v1h-1zM720 764h1v1h-1zM726 764h5v1h-5zM739 764h1v1h-1zM899 764h1v1h-1zM944 764h14v1h-14zM963 764h3v1h-3zM991 764h2v1h-2zM994 764h1v1h-1zM1040 764h1v1h-1zM1066 764h1v1h-1zM1086 764h2v1h-2zM1103 764h2v1h-2zM1106 764h2v1h-2zM96 765h1v1h-1zM124 765h1v1h-1zM488 765h1v1h-1zM490 765h1v1h-1zM600 765h1v1h-1zM633 765h1v1h-1zM679 765h1v1h-1zM719 765h1v1h-1zM731 765h2v1h-2zM738 765h1v1h-1zM900 765h1v1h-1zM940 765h4v1h-4zM966 765h2v1h-2zM989 765h2v1h-2zM995 765h1v1h-1zM1039 765h1v1h-1zM1067 765h1v1h-1zM1085 765h1v1h-1zM1105 765h1v1h-1zM97 766h1v1h-1zM124 766h1v1h-1zM489 766h1v1h-1zM601 766h2v1h-2zM632 766h1v1h-1zM680 766h1v1h-1zM718 766h1v1h-1zM733 766h2v1h-2zM738 766h1v1h-1zM901 766h1v1h-1zM937 766h3v1h-3zM968 766h2v1h-2zM987 766h2v1h-2zM996 766h1v1h-1zM1038 766h1v1h-1zM1068 766h1v1h-1zM1084 766h1v1h-1zM98 767h1v1h-1zM123 767h1v1h-1zM603 767h3v1h-3zM630 767h2v1h-2zM680 767h1v1h-1zM717 767h1v1h-1zM735 767h3v1h-3zM901 767h1v1h-1zM937 767h1v1h-1zM970 767h1v1h-1zM985 767h2v1h-2zM997 767h1v1h-1zM1037 767h1v1h-1zM1069 767h1v1h-1zM1082 767h2v1h-2zM99 768h1v1h-1zM123 768h1v1h-1zM606 768h2v1h-2zM629 768h1v1h-1zM680 768h1v1h-1zM716 768h1v1h-1zM737 768h1v1h-1zM902 768h1v1h-1zM936 768h1v1h-1zM971 768h1v1h-1zM984 768h1v1h-1zM997 768h1v1h-1zM1036 768h1v1h-1zM1070 768h1v1h-1zM1080 768h2v1h-2zM100 769h1v1h-1zM122 769h1v1h-1zM608 769h4v1h-4zM628 769h1v1h-1zM680 769h1v1h-1zM715 769h1v1h-1zM903 769h1v1h-1zM936 769h1v1h-1zM972 769h2v1h-2zM982 769h2v1h-2zM998 769h1v1h-1zM1035 769h1v1h-1zM1071 769h1v1h-1zM1078 769h2v1h-2zM101 770h1v1h-1zM122 770h1v1h-1zM612 770h4v1h-4zM626 770h2v1h-2zM681 770h1v1h-1zM714 770h1v1h-1zM904 770h1v1h-1zM936 770h1v1h-1zM974 770h1v1h-1zM981 770h1v1h-1zM999 770h1v1h-1zM1034 770h1v1h-1zM1072 770h1v1h-1zM1075 770h3v1h-3zM102 771h1v1h-1zM121 771h1v1h-1zM616 771h10v1h-10zM681 771h1v1h-1zM694 771h20v1h-20zM904 771h1v1h-1zM935 771h1v1h-1zM975 771h1v1h-1zM980 771h1v1h-1zM1000 771h1v1h-1zM1033 771h1v1h-1zM1073 771h2v1h-2zM103 772h1v1h-1zM118 772h4v1h-4zM681 772h13v1h-13zM905 772h1v1h-1zM935 772h1v1h-1zM976 772h1v1h-1zM978 772h2v1h-2zM1001 772h3v1h-3zM1031 772h2v1h-2zM104 773h1v1h-1zM110 773h8v1h-8zM906 773h2v1h-2zM935 773h1v1h-1zM977 773h1v1h-1zM1004 773h4v1h-4zM1030 773h1v1h-1zM105 774h5v1h-5zM908 774h2v1h-2zM934 774h1v1h-1zM1008 774h2v1h-2zM1028 774h2v1h-2zM910 775h1v1h-1zM934 775h1v1h-1zM1010 775h2v1h-2zM1026 775h2v1h-2zM911 776h2v1h-2zM934 776h1v1h-1zM1012 776h2v1h-2zM1024 776h2v1h-2zM913 777h1v1h-1zM933 777h1v1h-1zM1014 777h1v1h-1zM1022 777h2v1h-2zM914 778h1v1h-1zM933 778h1v1h-1zM1015 778h2v1h-2zM1019 778h3v1h-3zM914 779h1v1h-1zM933 779h1v1h-1zM1017 779h2v1h-2zM915 780h1v1h-1zM933 780h1v1h-1zM915 781h1v1h-1zM932 781h1v1h-1zM916 782h1v1h-1zM932 782h1v1h-1zM917 783h1v1h-1zM932 783h1v1h-1zM917 784h1v1h-1zM931 784h1v1h-1zM918 785h1v1h-1zM931 785h1v1h-1zM919 786h1v1h-1zM931 786h1v1h-1zM919 787h1v1h-1zM930 787h1v1h-1zM920 788h1v1h-1zM930 788h1v1h-1zM920 789h1v1h-1zM930 789h1v1h-1zM921 790h5v1h-5zM929 790h1v1h-1zM926 791h4v1h-4z"/>
</g>
<g shape-rendering="crispEdges" fill="#000">
<rect x="8" y="1" width="1687" height="1"/>
<rect x="8" y="1" width="1" height="816"/>
<rect x="1694" y="1" width="1" height="816"/>
<rect x="8" y="501" width="1687" height="1"/>
<rect x="8" y="503" width="1687" height="1"/>
<rect x="8" y="665" width="1687" height="1"/>
<rect x="8" y="667" width="1687" height="1"/>
<rect x="8" y="816" width="1689" height="1"/>
<rect x="8" y="502" width="1687" height="1" fill="#fff"/>
<rect x="8" y="666" width="1687" height="1" fill="#fff"/>
<rect x="1695" y="3" width="2" height="1"/>
<rect x="1695" y="36" width="2" height="1"/>
<rect x="1695" y="69" width="2" height="1"/>
<rect x="1695" y="102" width="2" height="1"/>
<rect x="1695" y="135" width="2" height="1"/>
<rect x="1695" y="168" width="2" height="1"/>
<rect x="1695" y="201" width="2" height="1"/>
<rect x="1695" y="267" width="2" height="1"/>
<rect x="1695" y="300" width="2" height="1"/>
<rect x="1695" y="333" width="2" height="1"/>
<rect x="1695" y="366" width="2" height="1"/>
<rect x="1695" y="399" width="2" height="1"/>
<rect x="1695" y="432" width="2" height="1"/>
<rect x="1695" y="465" width="2" height="1"/>
<rect x="1695" y="498" width="2" height="1"/>
<rect x="1695" y="505" width="1" height="1"/>
<rect x="1695" y="557" width="1" height="1"/>
<rect x="1695" y="664" width="1" height="1"/>
<rect x="1695" y="669" width="1" height="1"/>
<rect x="1695" y="815" width="1" height="1"/>
<rect x="9" y="817" width="1" height="3"/>
<rect x="73" y="817" width="1" height="3"/>
<rect x="137" y="817" width="1" height="3"/>
<rect x="201" y="817" width="1" height="3"/>
<rect x="265" y="817" width="1" height="3"/>
<rect x="329" y="817" width="1" height="3"/>
<rect x="393" y="817" width="1" height="3"/>
<rect x="457" y="817" width="1" height="3"/>
<rect x="521" y="817" width="1" height="3"/>
<rect x="585" y="817" width="1" height="3"/>
<rect x="649" y="817" width="1" height="3"/>
<rect x="713" y="817" width="1" height="3"/>
<rect x="777" y="817" width="1" height="3"/>
<rect x="841" y="817" width="1" height="3"/>
<rect x="905" y="817" width="1" height="3"/>
<rect x="969" y="817" width="1" height="3"/>
<rect x="1033" y="817" width="1" height="3"/>
<rect x="1097" y="817" width="1" height="3"/>
<rect x="1161" y="817" width="1" height="3"/>
<rect x="1225" y="817" width="1" height="3"/>
<rect x="1289" y="817" width="1" height="3"/>
<rect x="1353" y="817" width="1" height="3"/>
<rect x="1417" y="817" width="1" height="3"/>
<rect x="1481" y="817" width="1" height="3"/>
<rect x="1545" y="817" width="1" height="3"/>
<rect x="1609" y="817" width="1" height="3"/>
<rect x="1673" y="817" width="1" height="3"/>
<path d="M12 8h7v1h-7zM13 9h5v1h-5zM14 10h3v1h-3zM15 11h1v1h-1z"/>
</g>
<text x="1699.6" y="7" textLength="28.4" lengthAdjust="spacingAndGlyphs">86.450</text>
<text x="1699.6" y="40" textLength="28.4" lengthAdjust="spacingAndGlyphs">85.050</text>
<text x="1699.6" y="73" textLength="28.4" lengthAdjust="spacingAndGlyphs">83.610</text>
<text x="1699.6" y="106" textLength="28.4" lengthAdjust="spacingAndGlyphs">82.210</text>
<text x="1699.6" y="139" textLength="28.4" lengthAdjust="spacingAndGlyphs">80.810</text>
<text x="1699.6" y="172" textLength="28.4" lengthAdjust="spacingAndGlyphs">79.410</text>
<text x="1699.6" y="205" textLength="28.4" lengthAdjust="spacingAndGlyphs">78.010</text>
<text x="1699.6" y="271" textLength="28.4" lengthAdjust="spacingAndGlyphs">75.210</text>
<text x="1699.6" y="304" textLength="28.4" lengthAdjust="spacingAndGlyphs">73.770</text>
<text x="1699.6" y="337" textLength="28.4" lengthAdjust="spacingAndGlyphs">72.370</text>
<text x="1699.6" y="370" textLength="28.4" lengthAdjust="spacingAndGlyphs">70.970</text>
<text x="1699.6" y="403" textLength="28.4" lengthAdjust="spacingAndGlyphs">69.570</text>
<text x="1699.6" y="436" textLength="28.4" lengthAdjust="spacingAndGlyphs">68.170</text>
<text x="1699.6" y="469" textLength="28.4" lengthAdjust="spacingAndGlyphs">66.770</text>
<text x="1699.6" y="502" textLength="28.4" lengthAdjust="spacingAndGlyphs">65.370</text>
<rect x="1696" y="148" width="36" height="11" fill="#ff0000" shape-rendering="crispEdges"/>
<text x="1699.6" y="157" textLength="28.4" lengthAdjust="spacingAndGlyphs" style="fill:#fff;stroke:#fff">80.000</text>
<rect x="1696" y="230" width="36" height="11" fill="#ff0000" shape-rendering="crispEdges"/>
<text x="1699.6" y="239" textLength="28.4" lengthAdjust="spacingAndGlyphs" style="fill:#fff;stroke:#fff">76.500</text>
<rect x="1696" y="313" width="36" height="11" fill="#32cd32" shape-rendering="crispEdges"/>
<text x="1699.6" y="322" textLength="28.4" lengthAdjust="spacingAndGlyphs" style="fill:#fff;stroke:#fff">73.000</text>
<rect x="1696" y="383" width="36" height="11" fill="#4169e1" shape-rendering="crispEdges"/>
<text x="1699.6" y="392" textLength="28.4" lengthAdjust="spacingAndGlyphs" style="fill:#fff;stroke:#fff">70.000</text>
<rect x="1696" y="442" width="36" height="11" fill="#4169e1" shape-rendering="crispEdges"/>
<text x="1699.6" y="451" textLength="28.4" lengthAdjust="spacingAndGlyphs" style="fill:#fff;stroke:#fff">67.500</text>
<text x="1698" y="514" textLength="28" lengthAdjust="spacingAndGlyphs">1.2924</text>
<text x="1698.3" y="561" textLength="17.6" lengthAdjust="spacingAndGlyphs">0.00</text>
<text x="1698" y="662" textLength="30.8" lengthAdjust="spacingAndGlyphs">-2.6386</text>
<text x="1698" y="678" textLength="14.4" lengthAdjust="spacingAndGlyphs">100</text>
<text x="1697.5" y="717" textLength="9.6" lengthAdjust="spacingAndGlyphs">70</text>
<text x="1697.5" y="775" textLength="9.6" lengthAdjust="spacingAndGlyphs">30</text>
<text x="1697.7" y="813" textLength="5.2" lengthAdjust="spacingAndGlyphs">0</text>
<text x="24.5" y="12.8" textLength="42.2" lengthAdjust="spacingAndGlyphs">UKOil-,H4</text>
<text x="73.2" y="12.8" textLength="27.4" lengthAdjust="spacingAndGlyphs">73.160</text>
<text x="104.4" y="12.8" textLength="27.2" lengthAdjust="spacingAndGlyphs">73.200</text>
<text x="135.2" y="12.8" textLength="27.4" lengthAdjust="spacingAndGlyphs">73.020</text>
<text x="166.4" y="12.8" textLength="27.6" lengthAdjust="spacingAndGlyphs">73.040</text>
<text x="13" y="515.8" textLength="134" lengthAdjust="spacingAndGlyphs">MACD(12,26,9) -0.2036 -0.0222</text>
<text x="13.2" y="680" textLength="67.6" lengthAdjust="spacingAndGlyphs">RSI(14) 40.4062</text>
<text x="8.3" y="829" textLength="48.8" lengthAdjust="spacingAndGlyphs">1 Nov 2021</text>
<text x="72.3" y="829" textLength="51.5" lengthAdjust="spacingAndGlyphs">3 Nov 00:00</text>
<text x="136.3" y="829" textLength="51.5" lengthAdjust="spacingAndGlyphs">4 Nov 08:00</text>
<text x="200.3" y="829" textLength="51.5" lengthAdjust="spacingAndGlyphs">5 Nov 16:00</text>
<text x="264.3" y="829" textLength="51.5" lengthAdjust="spacingAndGlyphs">8 Nov 20:00</text>
<text x="328.3" y="829" textLength="56.8" lengthAdjust="spacingAndGlyphs">10 Nov 05:00</text>
<text x="392.3" y="829" textLength="56.8" lengthAdjust="spacingAndGlyphs">11 Nov 13:00</text>
<text x="456.3" y="829" textLength="56.8" lengthAdjust="spacingAndGlyphs">12 Nov 21:00</text>
<text x="520.3" y="829" textLength="56.8" lengthAdjust="spacingAndGlyphs">16 Nov 01:00</text>
<text x="584.3" y="829" textLength="56.8" lengthAdjust="spacingAndGlyphs">17 Nov 09:00</text>
<text x="648.3" y="829" textLength="56.8" lengthAdjust="spacingAndGlyphs">18 Nov 17:00</text>
<text x="712.3" y="829" textLength="56.8" lengthAdjust="spacingAndGlyphs">21 Nov 23:00</text>
<text x="776.3" y="829" textLength="56.8" lengthAdjust="spacingAndGlyphs">23 Nov 05:00</text>
<text x="840.3" y="829" textLength="56.8" lengthAdjust="spacingAndGlyphs">24 Nov 13:00</text>
<text x="904.3" y="829" textLength="56.8" lengthAdjust="spacingAndGlyphs">26 Nov 05:00</text>
<text x="968.3" y="829" textLength="56.8" lengthAdjust="spacingAndGlyphs">29 Nov 12:00</text>
<text x="1032.3" y="829" textLength="56.8" lengthAdjust="spacingAndGlyphs">30 Nov 21:00</text>
<text x="1096.3" y="829" textLength="49.4" lengthAdjust="spacingAndGlyphs">2 Dec 05:00</text>
<text x="1160.3" y="829" textLength="49.4" lengthAdjust="spacingAndGlyphs">3 Dec 13:00</text>
<text x="1224.3" y="829" textLength="49.4" lengthAdjust="spacingAndGlyphs">6 Dec 16:00</text>
<text x="1288.3" y="829" textLength="49.4" lengthAdjust="spacingAndGlyphs">8 Dec 01:00</text>
<text x="1352.3" y="829" textLength="49.4" lengthAdjust="spacingAndGlyphs">9 Dec 09:00</text>
<text x="1416.3" y="829" textLength="54.8" lengthAdjust="spacingAndGlyphs">10 Dec 17:00</text>
<text x="1480.3" y="829" textLength="54.8" lengthAdjust="spacingAndGlyphs">13 Dec 20:00</text>
<text x="1544.3" y="829" textLength="54.8" lengthAdjust="spacingAndGlyphs">15 Dec 05:00</text>
<text x="1608.3" y="829" textLength="54.8" lengthAdjust="spacingAndGlyphs">16 Dec 13:00</text>
<text x="1672.3" y="829" textLength="54.8" lengthAdjust="spacingAndGlyphs">17 Dec 21:00</text>
<text x="1267.2" y="96" textLength="204.5" lengthAdjust="spacingAndGlyphs" style="font-family:'Liberation Sans','Noto Sans CJK SC',sans-serif;font-size:34px;fill:#e8212b;stroke:none">多空转折点73</text>
</svg></body></html>
